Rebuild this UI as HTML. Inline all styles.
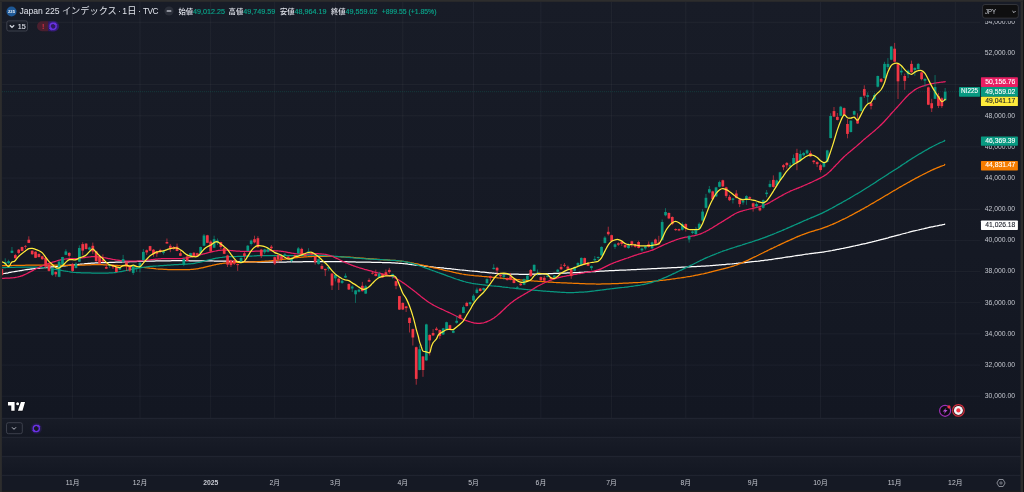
<!DOCTYPE html>
<html lang="ja"><head><meta charset="utf-8"><title>Japan 225</title>
<style>
html,body{margin:0;padding:0;background:#151924;}
body{width:1024px;height:492px;overflow:hidden;position:relative;font-family:"Liberation Sans","Noto Sans CJK JP",sans-serif;color:#d1d4dc;}
#chart{position:absolute;left:0;top:0;width:1024px;height:492px;}
.t{position:absolute;white-space:nowrap;line-height:1;}
#ov{position:absolute;left:0;top:0;width:1024px;height:492px;will-change:transform;}
.ax{position:absolute;right:9px;font-size:6.8px;color:#c4c7cf;line-height:1;white-space:nowrap;}
.tm{position:absolute;top:480.2px;font-size:6.8px;color:#c4c7cf;line-height:1;transform:translateX(-50%);white-space:nowrap;}
.lb{-webkit-text-stroke:0.1px currentColor;position:absolute;left:980px;width:35.3px;height:9.6px;font-size:6.75px;line-height:9.6px;text-align:right;color:#fff;white-space:nowrap;}
</style></head><body>
<svg id="chart" width="1024" height="492" viewBox="0 0 1024 492">
<defs><linearGradient id="bgg" x1="0" y1="0" x2="0" y2="1"><stop offset="0" stop-color="#181c27"/><stop offset="1" stop-color="#131722"/></linearGradient></defs>
<rect x="0" y="0" width="1024" height="492" fill="#151924"/>
<rect x="0" y="0" width="1024" height="418.3" fill="url(#bgg)"/>
<rect x="0" y="418.3" width="1024" height="19" fill="url(#bgg)"/>
<rect x="0" y="437.3" width="1024" height="19" fill="url(#bgg)"/>
<rect x="0" y="456.3" width="1024" height="19" fill="url(#bgg)"/>
<g stroke="#f0f3fa" stroke-opacity="0.055" stroke-width="0.8" fill="none">
<path d="M2 22.3H980M2 53.5H980M2 84.6H980M2 115.8H980M2 146.9H980M2 178.1H980M2 209.3H980M2 240.4H980M2 271.6H980M2 302.7H980M2 333.9H980M2 365.1H980M2 396.2H980"/>
<path d="M72.6 2V418M140.0 2V418M210.7 2V418M274.7 2V418M335.4 2V418M402.8 2V418M473.5 2V418M540.9 2V418M611.6 2V418M685.8 2V418M753.1 2V418M820.5 2V418M894.6 2V418M955.3 2V418"/>
</g>
<g stroke="#272b37" stroke-width="0.8">
<path d="M2 418.3H1021M2 437.3H1021M2 456.3H1021M2 475.3H1021"/>
</g>
<path d="M2.1 273.9C2.5 273.8 3.5 273.6 4.1 273.5C4.8 273.4 5.5 273.3 6.1 273.1C6.8 273.0 7.5 272.9 8.1 272.8C8.8 272.6 9.5 272.5 10.1 272.4C10.8 272.3 11.5 272.1 12.1 272.0C12.8 271.9 13.5 271.8 14.1 271.7C14.8 271.5 15.5 271.4 16.1 271.3C16.8 271.2 17.5 271.1 18.1 271.0C18.8 270.9 19.5 270.8 20.1 270.6C20.8 270.5 21.5 270.4 22.1 270.3C22.8 270.2 23.5 270.1 24.1 270.0C24.8 269.9 25.5 269.8 26.1 269.7C26.8 269.6 27.5 269.5 28.1 269.4C28.8 269.3 29.5 269.3 30.1 269.2C30.8 269.1 31.5 269.0 32.1 268.9C32.8 268.8 33.5 268.7 34.1 268.6C34.8 268.6 35.5 268.5 36.1 268.4C36.8 268.3 37.5 268.3 38.1 268.2C38.8 268.1 39.5 268.0 40.1 268.0C40.8 267.9 41.5 267.8 42.1 267.8C42.8 267.7 43.5 267.6 44.1 267.6C44.8 267.5 45.5 267.4 46.1 267.4C46.8 267.3 47.5 267.3 48.1 267.2C48.8 267.1 49.5 267.1 50.1 267.0C50.8 267.0 51.5 266.9 52.1 266.9C52.8 266.8 53.5 266.8 54.1 266.7C54.8 266.7 55.5 266.6 56.1 266.5C56.8 266.5 57.5 266.4 58.1 266.4C58.8 266.3 59.5 266.3 60.1 266.2C60.8 266.1 61.5 266.1 62.1 266.0C62.8 265.9 63.5 265.9 64.1 265.8C64.8 265.8 65.5 265.7 66.1 265.6C66.8 265.6 67.5 265.5 68.1 265.4C68.8 265.4 69.5 265.3 70.1 265.2C70.8 265.1 71.5 265.1 72.1 265.0C72.8 264.9 73.5 264.9 74.1 264.8C74.8 264.7 75.5 264.7 76.1 264.6C76.8 264.5 77.5 264.4 78.1 264.4C78.8 264.3 79.5 264.2 80.1 264.2C80.8 264.1 81.5 264.0 82.1 264.0C82.8 263.9 83.5 263.8 84.1 263.8C84.8 263.7 85.5 263.7 86.1 263.6C86.8 263.5 87.5 263.5 88.1 263.4C88.8 263.4 89.5 263.3 90.1 263.3C90.8 263.2 91.5 263.2 92.1 263.1C92.8 263.1 93.5 263.1 94.1 263.0C94.8 263.0 95.5 262.9 96.1 262.9C96.8 262.9 97.5 262.9 98.1 262.8C98.8 262.8 99.5 262.8 100.1 262.7C100.8 262.7 101.5 262.7 102.1 262.7C102.8 262.6 103.5 262.6 104.1 262.6C104.8 262.6 105.5 262.6 106.1 262.5C106.8 262.5 107.5 262.5 108.1 262.5C108.8 262.4 109.5 262.4 110.1 262.4C110.8 262.4 111.5 262.3 112.1 262.3C112.8 262.3 113.5 262.3 114.1 262.3C114.8 262.2 115.5 262.2 116.1 262.2C116.8 262.2 117.5 262.1 118.1 262.1C118.8 262.1 119.5 262.1 120.1 262.0C120.8 262.0 121.5 262.0 122.1 262.0C122.8 261.9 123.5 261.9 124.1 261.9C124.8 261.9 125.5 261.8 126.1 261.8C126.8 261.8 127.5 261.8 128.1 261.8C128.8 261.7 129.5 261.7 130.1 261.7C130.8 261.7 131.5 261.6 132.1 261.6C132.8 261.6 133.5 261.6 134.1 261.5C134.8 261.5 135.5 261.5 136.1 261.5C136.8 261.5 137.5 261.4 138.1 261.4C138.8 261.4 139.5 261.4 140.1 261.3C140.8 261.3 141.5 261.3 142.1 261.3C142.8 261.3 143.5 261.2 144.1 261.2C144.8 261.2 145.5 261.2 146.1 261.2C146.8 261.2 147.5 261.1 148.1 261.1C148.8 261.1 149.5 261.1 150.1 261.1C150.8 261.1 151.5 261.0 152.1 261.0C152.8 261.0 153.5 261.0 154.1 261.0C154.8 261.0 155.5 261.0 156.1 260.9C156.8 260.9 157.5 260.9 158.1 260.9C158.8 260.9 159.5 260.9 160.1 260.9C160.8 260.9 161.5 260.9 162.1 260.9C162.8 260.8 163.5 260.8 164.1 260.8C164.8 260.8 165.5 260.8 166.1 260.8C166.8 260.8 167.5 260.8 168.1 260.8C168.8 260.8 169.5 260.8 170.1 260.8C170.8 260.8 171.5 260.8 172.1 260.7C172.8 260.7 173.5 260.7 174.1 260.7C174.8 260.7 175.5 260.7 176.1 260.7C176.8 260.7 177.5 260.7 178.1 260.7C178.8 260.7 179.5 260.7 180.1 260.7C180.8 260.7 181.5 260.7 182.1 260.7C182.8 260.7 183.5 260.7 184.1 260.7C184.8 260.7 185.5 260.7 186.1 260.7C186.8 260.7 187.5 260.7 188.1 260.7C188.8 260.8 189.5 260.8 190.1 260.8C190.8 260.8 191.5 260.8 192.1 260.8C192.8 260.8 193.5 260.8 194.1 260.8C194.8 260.8 195.5 260.8 196.1 260.8C196.8 260.8 197.5 260.8 198.1 260.8C198.8 260.9 199.5 260.9 200.1 260.9C200.8 260.9 201.5 260.9 202.1 260.9C202.8 260.9 203.5 260.9 204.1 260.9C204.8 260.9 205.5 260.9 206.1 260.9C206.8 260.9 207.5 260.9 208.1 260.9C208.8 260.9 209.5 260.9 210.1 260.9C210.8 260.9 211.5 260.9 212.1 260.9C212.8 260.9 213.5 260.9 214.1 261.0C214.8 261.0 215.5 261.0 216.1 261.0C216.8 261.0 217.5 261.0 218.1 261.0C218.8 261.0 219.5 261.0 220.1 261.0C220.8 261.0 221.5 261.0 222.1 261.0C222.8 261.1 223.5 261.1 224.1 261.1C224.8 261.1 225.5 261.1 226.1 261.1C226.8 261.2 227.5 261.2 228.1 261.2C228.8 261.2 229.5 261.2 230.1 261.3C230.8 261.3 231.5 261.3 232.1 261.3C232.8 261.4 233.5 261.4 234.1 261.4C234.8 261.4 235.5 261.5 236.1 261.5C236.8 261.5 237.5 261.5 238.1 261.5C238.8 261.6 239.5 261.6 240.1 261.6C240.8 261.6 241.5 261.7 242.1 261.7C242.8 261.7 243.5 261.7 244.1 261.7C244.8 261.7 245.5 261.8 246.1 261.8C246.8 261.8 247.5 261.8 248.1 261.8C248.8 261.8 249.5 261.8 250.1 261.9C250.8 261.9 251.5 261.9 252.1 261.9C252.8 261.9 253.5 261.9 254.1 261.9C254.8 261.9 255.5 261.9 256.1 261.9C256.8 262.0 257.5 262.0 258.1 262.0C258.8 262.0 259.5 262.0 260.1 262.0C260.8 262.0 261.5 262.0 262.1 262.0C262.8 262.0 263.5 262.0 264.1 262.0C264.8 262.0 265.5 262.0 266.1 262.0C266.8 262.0 267.5 262.0 268.1 262.0C268.8 262.0 269.5 262.0 270.1 262.0C270.8 262.0 271.5 262.0 272.1 262.0C272.8 262.0 273.5 262.0 274.1 262.0C274.8 262.0 275.5 262.0 276.1 262.0C276.8 262.0 277.5 262.0 278.1 262.0C278.8 262.0 279.5 262.0 280.1 262.0C280.8 262.0 281.5 262.0 282.1 262.0C282.8 262.0 283.5 262.0 284.1 262.0C284.8 262.0 285.5 262.0 286.1 262.0C286.8 262.0 287.5 261.9 288.1 261.9C288.8 261.9 289.5 261.9 290.1 261.9C290.8 261.9 291.5 261.9 292.1 261.9C292.8 261.9 293.5 261.9 294.1 261.9C294.8 261.9 295.5 261.9 296.1 261.8C296.8 261.8 297.5 261.8 298.1 261.8C298.8 261.8 299.5 261.8 300.1 261.8C300.8 261.8 301.5 261.8 302.1 261.8C302.8 261.8 303.5 261.7 304.1 261.7C304.8 261.7 305.5 261.7 306.1 261.7C306.8 261.7 307.5 261.7 308.1 261.7C308.8 261.7 309.5 261.7 310.1 261.7C310.8 261.7 311.5 261.7 312.1 261.7C312.8 261.7 313.5 261.7 314.1 261.7C314.8 261.6 315.5 261.6 316.1 261.6C316.8 261.6 317.5 261.6 318.1 261.6C318.8 261.6 319.5 261.6 320.1 261.6C320.8 261.6 321.5 261.6 322.1 261.6C322.8 261.6 323.5 261.6 324.1 261.6C324.8 261.6 325.5 261.6 326.1 261.6C326.8 261.6 327.5 261.6 328.1 261.6C328.8 261.6 329.5 261.6 330.1 261.6C330.8 261.6 331.5 261.6 332.1 261.6C332.8 261.6 333.5 261.6 334.1 261.6C334.8 261.6 335.5 261.6 336.1 261.6C336.8 261.6 337.5 261.6 338.1 261.6C338.8 261.6 339.5 261.6 340.1 261.6C340.8 261.6 341.5 261.7 342.1 261.7C342.8 261.7 343.5 261.7 344.1 261.7C344.8 261.7 345.5 261.7 346.1 261.7C346.8 261.8 347.5 261.8 348.1 261.8C348.8 261.8 349.5 261.8 350.1 261.8C350.8 261.9 351.5 261.9 352.1 261.9C352.8 261.9 353.5 261.9 354.1 261.9C354.8 261.9 355.5 262.0 356.1 262.0C356.8 262.0 357.5 262.0 358.1 262.0C358.8 262.0 359.5 262.0 360.1 262.1C360.8 262.1 361.5 262.1 362.1 262.1C362.8 262.1 363.5 262.1 364.1 262.1C364.8 262.1 365.5 262.1 366.1 262.2C366.8 262.2 367.5 262.2 368.1 262.2C368.8 262.2 369.5 262.2 370.1 262.2C370.8 262.2 371.5 262.2 372.1 262.3C372.8 262.3 373.5 262.3 374.1 262.3C374.8 262.3 375.5 262.3 376.1 262.3C376.8 262.3 377.5 262.3 378.1 262.4C378.8 262.4 379.5 262.4 380.1 262.4C380.8 262.4 381.5 262.4 382.1 262.5C382.8 262.5 383.5 262.5 384.1 262.5C384.8 262.5 385.5 262.6 386.1 262.6C386.8 262.6 387.5 262.6 388.1 262.7C388.8 262.7 389.5 262.7 390.1 262.7C390.8 262.8 391.5 262.8 392.1 262.8C392.8 262.9 393.5 262.9 394.1 262.9C394.8 263.0 395.5 263.0 396.1 263.0C396.8 263.1 397.5 263.1 398.1 263.2C398.8 263.2 399.5 263.3 400.1 263.3C400.8 263.4 401.5 263.4 402.1 263.5C402.8 263.6 403.5 263.6 404.1 263.7C404.8 263.7 405.5 263.8 406.1 263.9C406.8 264.0 407.5 264.0 408.1 264.1C408.8 264.2 409.5 264.3 410.1 264.3C410.8 264.4 411.5 264.5 412.1 264.6C412.8 264.6 413.5 264.7 414.1 264.8C414.8 264.9 415.5 265.0 416.1 265.0C416.8 265.1 417.5 265.2 418.1 265.3C418.8 265.4 419.5 265.4 420.1 265.5C420.8 265.6 421.5 265.7 422.1 265.7C422.8 265.8 423.5 265.9 424.1 266.0C424.8 266.0 425.5 266.1 426.1 266.2C426.8 266.3 427.5 266.3 428.1 266.4C428.8 266.5 429.5 266.6 430.1 266.6C430.8 266.7 431.5 266.8 432.1 266.8C432.8 266.9 433.5 267.0 434.1 267.1C434.8 267.1 435.5 267.2 436.1 267.3C436.8 267.3 437.5 267.4 438.1 267.5C438.8 267.5 439.5 267.6 440.1 267.7C440.8 267.8 441.5 267.8 442.1 267.9C442.8 268.0 443.5 268.0 444.1 268.1C444.8 268.2 445.5 268.3 446.1 268.3C446.8 268.4 447.5 268.5 448.1 268.5C448.8 268.6 449.5 268.7 450.1 268.7C450.8 268.8 451.5 268.9 452.1 269.0C452.8 269.0 453.5 269.1 454.1 269.2C454.8 269.2 455.5 269.3 456.1 269.4C456.8 269.4 457.5 269.5 458.1 269.6C458.8 269.6 459.5 269.7 460.1 269.8C460.8 269.8 461.5 269.9 462.1 270.0C462.8 270.0 463.5 270.1 464.1 270.2C464.8 270.2 465.5 270.3 466.1 270.4C466.8 270.4 467.5 270.5 468.1 270.6C468.8 270.6 469.5 270.7 470.1 270.8C470.8 270.8 471.5 270.9 472.1 271.0C472.8 271.0 473.5 271.1 474.1 271.2C474.8 271.2 475.5 271.3 476.1 271.4C476.8 271.5 477.5 271.5 478.1 271.6C478.8 271.7 479.5 271.7 480.1 271.8C480.8 271.9 481.5 272.0 482.1 272.0C482.8 272.1 483.5 272.2 484.1 272.2C484.8 272.3 485.5 272.4 486.1 272.4C486.8 272.5 487.5 272.6 488.1 272.6C488.8 272.7 489.5 272.8 490.1 272.8C490.8 272.9 491.5 272.9 492.1 273.0C492.8 273.0 493.5 273.1 494.1 273.2C494.8 273.2 495.5 273.3 496.1 273.3C496.8 273.4 497.5 273.4 498.1 273.5C498.8 273.5 499.5 273.5 500.1 273.6C500.8 273.6 501.5 273.7 502.1 273.7C502.8 273.7 503.5 273.8 504.1 273.8C504.8 273.8 505.5 273.9 506.1 273.9C506.8 273.9 507.5 274.0 508.1 274.0C508.8 274.0 509.5 274.0 510.1 274.0C510.8 274.1 511.5 274.1 512.1 274.1C512.8 274.1 513.5 274.1 514.1 274.2C514.8 274.2 515.5 274.2 516.1 274.2C516.8 274.2 517.5 274.2 518.1 274.2C518.8 274.2 519.5 274.3 520.1 274.3C520.8 274.3 521.5 274.3 522.1 274.3C522.8 274.3 523.5 274.3 524.1 274.3C524.8 274.3 525.5 274.3 526.1 274.3C526.8 274.3 527.5 274.3 528.1 274.3C528.8 274.3 529.5 274.2 530.1 274.2C530.8 274.2 531.5 274.2 532.1 274.2C532.8 274.2 533.5 274.2 534.1 274.2C534.8 274.2 535.5 274.1 536.1 274.1C536.8 274.1 537.5 274.1 538.1 274.1C538.8 274.0 539.5 274.0 540.1 274.0C540.8 274.0 541.5 274.0 542.1 273.9C542.8 273.9 543.5 273.9 544.1 273.9C544.8 273.8 545.5 273.8 546.1 273.8C546.8 273.8 547.5 273.7 548.1 273.7C548.8 273.7 549.5 273.6 550.1 273.6C550.8 273.6 551.5 273.5 552.1 273.5C552.8 273.5 553.5 273.5 554.1 273.4C554.8 273.4 555.5 273.4 556.1 273.3C556.8 273.3 557.5 273.3 558.1 273.3C558.8 273.2 559.5 273.2 560.1 273.2C560.8 273.2 561.5 273.1 562.1 273.1C562.8 273.1 563.5 273.1 564.1 273.0C564.8 273.0 565.5 273.0 566.1 273.0C566.8 273.0 567.5 272.9 568.1 272.9C568.8 272.9 569.5 272.9 570.1 272.8C570.8 272.8 571.5 272.8 572.1 272.8C572.8 272.7 573.5 272.7 574.1 272.7C574.8 272.7 575.5 272.6 576.1 272.6C576.8 272.6 577.5 272.5 578.1 272.5C578.8 272.5 579.5 272.4 580.1 272.4C580.8 272.4 581.5 272.3 582.1 272.3C582.8 272.2 583.5 272.2 584.1 272.2C584.8 272.1 585.5 272.1 586.1 272.0C586.8 272.0 587.5 272.0 588.1 271.9C588.8 271.9 589.5 271.8 590.1 271.8C590.8 271.8 591.5 271.7 592.1 271.7C592.8 271.7 593.5 271.6 594.1 271.6C594.8 271.5 595.5 271.5 596.1 271.5C596.8 271.4 597.5 271.4 598.1 271.3C598.8 271.3 599.5 271.3 600.1 271.2C600.8 271.2 601.5 271.1 602.1 271.1C602.8 271.1 603.5 271.0 604.1 271.0C604.8 271.0 605.5 270.9 606.1 270.9C606.8 270.9 607.5 270.8 608.1 270.8C608.8 270.8 609.5 270.7 610.1 270.7C610.8 270.7 611.5 270.6 612.1 270.6C612.8 270.6 613.5 270.5 614.1 270.5C614.8 270.5 615.5 270.4 616.1 270.4C616.8 270.4 617.5 270.4 618.1 270.3C618.8 270.3 619.5 270.3 620.1 270.2C620.8 270.2 621.5 270.2 622.1 270.2C622.8 270.1 623.5 270.1 624.1 270.1C624.8 270.0 625.5 270.0 626.1 270.0C626.8 269.9 627.5 269.9 628.1 269.9C628.8 269.9 629.5 269.8 630.1 269.8C630.8 269.8 631.5 269.7 632.1 269.7C632.8 269.7 633.5 269.6 634.1 269.6C634.8 269.6 635.5 269.5 636.1 269.5C636.8 269.5 637.5 269.4 638.1 269.4C638.8 269.4 639.5 269.4 640.1 269.3C640.8 269.3 641.5 269.3 642.1 269.2C642.8 269.2 643.5 269.2 644.1 269.1C644.8 269.1 645.5 269.1 646.1 269.0C646.8 269.0 647.5 269.0 648.1 268.9C648.8 268.9 649.5 268.9 650.1 268.8C650.8 268.8 651.5 268.8 652.1 268.7C652.8 268.7 653.5 268.7 654.1 268.6C654.8 268.6 655.5 268.6 656.1 268.5C656.8 268.5 657.5 268.5 658.1 268.4C658.8 268.4 659.5 268.4 660.1 268.3C660.8 268.3 661.5 268.3 662.1 268.2C662.8 268.2 663.5 268.2 664.1 268.1C664.8 268.1 665.5 268.1 666.1 268.0C666.8 268.0 667.5 268.0 668.1 267.9C668.8 267.9 669.5 267.9 670.1 267.8C670.8 267.8 671.5 267.8 672.1 267.7C672.8 267.7 673.5 267.7 674.1 267.6C674.8 267.6 675.5 267.6 676.1 267.5C676.8 267.5 677.5 267.5 678.1 267.4C678.8 267.4 679.5 267.4 680.1 267.3C680.8 267.3 681.5 267.3 682.1 267.2C682.8 267.2 683.5 267.2 684.1 267.1C684.8 267.1 685.5 267.1 686.1 267.0C686.8 267.0 687.5 267.0 688.1 266.9C688.8 266.9 689.5 266.9 690.1 266.8C690.8 266.8 691.5 266.8 692.1 266.7C692.8 266.7 693.5 266.6 694.1 266.6C694.8 266.6 695.5 266.5 696.1 266.5C696.8 266.5 697.5 266.4 698.1 266.4C698.8 266.4 699.5 266.3 700.1 266.3C700.8 266.3 701.5 266.2 702.1 266.2C702.8 266.1 703.5 266.1 704.1 266.1C704.8 266.0 705.5 266.0 706.1 265.9C706.8 265.9 707.5 265.8 708.1 265.8C708.8 265.7 709.5 265.7 710.1 265.7C710.8 265.6 711.5 265.6 712.1 265.5C712.8 265.5 713.5 265.4 714.1 265.4C714.8 265.3 715.5 265.3 716.1 265.2C716.8 265.1 717.5 265.1 718.1 265.0C718.8 265.0 719.5 264.9 720.1 264.9C720.8 264.8 721.5 264.8 722.1 264.7C722.8 264.6 723.5 264.6 724.1 264.5C724.8 264.5 725.5 264.4 726.1 264.3C726.8 264.3 727.5 264.2 728.1 264.2C728.8 264.1 729.5 264.0 730.1 264.0C730.8 263.9 731.5 263.8 732.1 263.8C732.8 263.7 733.5 263.6 734.1 263.6C734.8 263.5 735.5 263.4 736.1 263.4C736.8 263.3 737.5 263.2 738.1 263.2C738.8 263.1 739.5 263.0 740.1 263.0C740.8 262.9 741.5 262.8 742.1 262.8C742.8 262.7 743.5 262.6 744.1 262.6C744.8 262.5 745.5 262.4 746.1 262.3C746.8 262.3 747.5 262.2 748.1 262.1C748.8 262.1 749.5 262.0 750.1 261.9C750.8 261.9 751.5 261.8 752.1 261.7C752.8 261.6 753.5 261.6 754.1 261.5C754.8 261.4 755.5 261.4 756.1 261.3C756.8 261.2 757.5 261.1 758.1 261.1C758.8 261.0 759.5 260.9 760.1 260.8C760.8 260.7 761.5 260.7 762.1 260.6C762.8 260.5 763.5 260.4 764.1 260.3C764.8 260.2 765.5 260.2 766.1 260.1C766.8 260.0 767.5 259.9 768.1 259.8C768.8 259.7 769.5 259.6 770.1 259.5C770.8 259.5 771.5 259.4 772.1 259.3C772.8 259.2 773.5 259.1 774.1 259.0C774.8 258.9 775.5 258.8 776.1 258.7C776.8 258.6 777.5 258.5 778.1 258.4C778.8 258.3 779.5 258.2 780.1 258.1C780.8 258.0 781.5 257.9 782.1 257.8C782.8 257.7 783.5 257.6 784.1 257.5C784.8 257.4 785.5 257.3 786.1 257.2C786.8 257.1 787.5 257.0 788.1 256.9C788.8 256.8 789.5 256.7 790.1 256.6C790.8 256.5 791.5 256.4 792.1 256.3C792.8 256.2 793.5 256.1 794.1 256.0C794.8 255.9 795.5 255.8 796.1 255.7C796.8 255.6 797.5 255.5 798.1 255.4C798.8 255.3 799.5 255.2 800.1 255.1C800.8 255.0 801.5 254.9 802.1 254.8C802.8 254.7 803.5 254.6 804.1 254.5C804.8 254.4 805.5 254.3 806.1 254.2C806.8 254.1 807.5 254.0 808.1 254.0C808.8 253.9 809.5 253.8 810.1 253.7C810.8 253.6 811.5 253.5 812.1 253.4C812.8 253.3 813.5 253.3 814.1 253.2C814.8 253.1 815.5 253.0 816.1 252.9C816.8 252.8 817.5 252.7 818.1 252.6C818.8 252.6 819.5 252.5 820.1 252.4C820.8 252.3 821.5 252.2 822.1 252.1C822.8 252.0 823.5 251.9 824.1 251.8C824.8 251.7 825.5 251.6 826.1 251.5C826.8 251.4 827.5 251.3 828.1 251.2C828.8 251.0 829.5 250.9 830.1 250.8C830.8 250.7 831.5 250.6 832.1 250.5C832.8 250.3 833.5 250.2 834.1 250.1C834.8 250.0 835.5 249.8 836.1 249.7C836.8 249.6 837.5 249.4 838.1 249.3C838.8 249.2 839.5 249.0 840.1 248.9C840.8 248.8 841.5 248.6 842.1 248.5C842.8 248.4 843.5 248.2 844.1 248.1C844.8 248.0 845.5 247.8 846.1 247.7C846.8 247.5 847.5 247.4 848.1 247.3C848.8 247.1 849.5 247.0 850.1 246.8C850.8 246.7 851.5 246.6 852.1 246.4C852.8 246.3 853.5 246.1 854.1 246.0C854.8 245.8 855.5 245.7 856.1 245.5C856.8 245.4 857.5 245.3 858.1 245.1C858.8 245.0 859.5 244.8 860.1 244.7C860.8 244.5 861.5 244.4 862.1 244.2C862.8 244.1 863.5 243.9 864.1 243.8C864.8 243.6 865.5 243.4 866.1 243.3C866.8 243.1 867.5 243.0 868.1 242.8C868.8 242.7 869.5 242.5 870.1 242.3C870.8 242.2 871.5 242.0 872.1 241.9C872.8 241.7 873.5 241.5 874.1 241.4C874.8 241.2 875.5 241.0 876.1 240.9C876.8 240.7 877.5 240.5 878.1 240.4C878.8 240.2 879.5 240.0 880.1 239.8C880.8 239.7 881.5 239.5 882.1 239.3C882.8 239.1 883.5 239.0 884.1 238.8C884.8 238.6 885.5 238.5 886.1 238.3C886.8 238.1 887.5 237.9 888.1 237.8C888.8 237.6 889.5 237.4 890.1 237.2C890.8 237.0 891.5 236.9 892.1 236.7C892.8 236.5 893.5 236.3 894.1 236.2C894.8 236.0 895.5 235.8 896.1 235.6C896.8 235.5 897.5 235.3 898.1 235.1C898.8 234.9 899.5 234.7 900.1 234.6C900.8 234.4 901.5 234.2 902.1 234.0C902.8 233.9 903.5 233.7 904.1 233.5C904.8 233.3 905.5 233.2 906.1 233.0C906.8 232.8 907.5 232.6 908.1 232.5C908.8 232.3 909.5 232.1 910.1 231.9C910.8 231.8 911.5 231.6 912.1 231.4C912.8 231.3 913.5 231.1 914.1 230.9C914.8 230.8 915.5 230.6 916.1 230.5C916.8 230.3 917.5 230.1 918.1 230.0C918.8 229.8 919.5 229.7 920.1 229.5C920.8 229.3 921.5 229.2 922.1 229.0C922.8 228.9 923.5 228.7 924.1 228.6C924.8 228.4 925.5 228.3 926.1 228.1C926.8 228.0 927.5 227.8 928.1 227.7C928.8 227.5 929.5 227.4 930.1 227.2C930.8 227.1 931.5 226.9 932.1 226.8C932.8 226.7 933.5 226.5 934.1 226.4C934.8 226.3 935.5 226.1 936.1 226.0C936.8 225.9 937.5 225.7 938.1 225.6C938.8 225.5 939.5 225.3 940.1 225.2C940.8 225.1 941.5 225.0 942.1 224.8C942.8 224.7 943.7 224.6 944.1 224.5C944.6 224.4 944.6 224.2 944.7 224.1" fill="none" stroke="#ffffff" stroke-width="1.25" stroke-linejoin="round" stroke-linecap="round"/>
<path d="M2.1 265.6C2.5 265.6 3.5 265.6 4.1 265.6C4.8 265.6 5.5 265.5 6.1 265.5C6.8 265.5 7.5 265.5 8.1 265.5C8.8 265.5 9.5 265.5 10.1 265.5C10.8 265.5 11.5 265.5 12.1 265.5C12.8 265.4 13.5 265.4 14.1 265.4C14.8 265.4 15.5 265.4 16.1 265.4C16.8 265.4 17.5 265.4 18.1 265.4C18.8 265.3 19.5 265.3 20.1 265.3C20.8 265.3 21.5 265.3 22.1 265.3C22.8 265.3 23.5 265.3 24.1 265.3C24.8 265.2 25.5 265.2 26.1 265.2C26.8 265.2 27.5 265.2 28.1 265.2C28.8 265.2 29.5 265.2 30.1 265.2C30.8 265.1 31.5 265.1 32.1 265.1C32.8 265.1 33.5 265.1 34.1 265.1C34.8 265.1 35.5 265.1 36.1 265.1C36.8 265.1 37.5 265.0 38.1 265.0C38.8 265.0 39.5 265.0 40.1 265.0C40.8 265.0 41.5 265.0 42.1 265.0C42.8 265.0 43.5 265.0 44.1 265.0C44.8 265.0 45.5 265.0 46.1 265.0C46.8 265.0 47.5 265.0 48.1 265.1C48.8 265.1 49.5 265.1 50.1 265.1C50.8 265.1 51.5 265.1 52.1 265.1C52.8 265.1 53.5 265.1 54.1 265.1C54.8 265.2 55.5 265.2 56.1 265.2C56.8 265.2 57.5 265.2 58.1 265.2C58.8 265.2 59.5 265.3 60.1 265.3C60.8 265.3 61.5 265.3 62.1 265.3C62.8 265.3 63.5 265.3 64.1 265.3C64.8 265.4 65.5 265.4 66.1 265.4C66.8 265.4 67.5 265.4 68.1 265.4C68.8 265.4 69.5 265.4 70.1 265.4C70.8 265.4 71.5 265.4 72.1 265.4C72.8 265.4 73.5 265.4 74.1 265.4C74.8 265.3 75.5 265.3 76.1 265.3C76.8 265.3 77.5 265.3 78.1 265.3C78.8 265.2 79.5 265.2 80.1 265.2C80.8 265.2 81.5 265.1 82.1 265.1C82.8 265.1 83.5 265.0 84.1 265.0C84.8 265.0 85.5 265.0 86.1 264.9C86.8 264.9 87.5 264.9 88.1 264.9C88.8 264.8 89.5 264.8 90.1 264.8C90.8 264.8 91.5 264.8 92.1 264.7C92.8 264.7 93.5 264.7 94.1 264.7C94.8 264.7 95.5 264.7 96.1 264.7C96.8 264.7 97.5 264.7 98.1 264.7C98.8 264.7 99.5 264.7 100.1 264.7C100.8 264.7 101.5 264.7 102.1 264.7C102.8 264.8 103.5 264.8 104.1 264.8C104.8 264.8 105.5 264.8 106.1 264.9C106.8 264.9 107.5 264.9 108.1 265.0C108.8 265.0 109.5 265.0 110.1 265.0C110.8 265.1 111.5 265.1 112.1 265.2C112.8 265.2 113.5 265.2 114.1 265.3C114.8 265.3 115.5 265.4 116.1 265.4C116.8 265.4 117.5 265.5 118.1 265.5C118.8 265.6 119.5 265.6 120.1 265.7C120.8 265.7 121.5 265.7 122.1 265.8C122.8 265.8 123.5 265.9 124.1 265.9C124.8 265.9 125.5 266.0 126.1 266.0C126.8 266.1 127.5 266.1 128.1 266.1C128.8 266.2 129.5 266.2 130.1 266.3C130.8 266.3 131.5 266.4 132.1 266.4C132.8 266.5 133.5 266.5 134.1 266.5C134.8 266.6 135.5 266.6 136.1 266.7C136.8 266.8 137.5 266.8 138.1 266.9C138.8 266.9 139.5 267.0 140.1 267.1C140.8 267.1 141.5 267.2 142.1 267.3C142.8 267.3 143.5 267.4 144.1 267.5C144.8 267.6 145.5 267.6 146.1 267.7C146.8 267.8 147.5 267.9 148.1 267.9C148.8 268.0 149.5 268.1 150.1 268.2C150.8 268.2 151.5 268.3 152.1 268.4C152.8 268.5 153.5 268.5 154.1 268.6C154.8 268.7 155.5 268.7 156.1 268.8C156.8 268.8 157.5 268.9 158.1 269.0C158.8 269.0 159.5 269.1 160.1 269.1C160.8 269.2 161.5 269.2 162.1 269.2C162.8 269.3 163.5 269.3 164.1 269.3C164.8 269.4 165.5 269.4 166.1 269.4C166.8 269.5 167.5 269.5 168.1 269.5C168.8 269.5 169.5 269.5 170.1 269.6C170.8 269.6 171.5 269.6 172.1 269.6C172.8 269.6 173.5 269.6 174.1 269.6C174.8 269.7 175.5 269.7 176.1 269.7C176.8 269.7 177.5 269.7 178.1 269.7C178.8 269.7 179.5 269.7 180.1 269.7C180.8 269.7 181.5 269.7 182.1 269.7C182.8 269.7 183.5 269.7 184.1 269.7C184.8 269.7 185.5 269.7 186.1 269.7C186.8 269.6 187.5 269.6 188.1 269.6C188.8 269.6 189.5 269.5 190.1 269.5C190.8 269.4 191.5 269.4 192.1 269.3C192.8 269.3 193.5 269.2 194.1 269.1C194.8 269.0 195.5 269.0 196.1 268.9C196.8 268.8 197.5 268.7 198.1 268.6C198.8 268.5 199.5 268.3 200.1 268.2C200.8 268.1 201.5 267.9 202.1 267.8C202.8 267.6 203.5 267.5 204.1 267.3C204.8 267.2 205.5 267.0 206.1 266.8C206.8 266.7 207.5 266.5 208.1 266.3C208.8 266.2 209.5 266.0 210.1 265.8C210.8 265.7 211.5 265.5 212.1 265.4C212.8 265.2 213.5 265.0 214.1 264.9C214.8 264.7 215.5 264.6 216.1 264.5C216.8 264.3 217.5 264.2 218.1 264.1C218.8 264.0 219.5 263.8 220.1 263.7C220.8 263.6 221.5 263.5 222.1 263.5C222.8 263.4 223.5 263.3 224.1 263.2C224.8 263.1 225.5 263.1 226.1 263.0C226.8 262.9 227.5 262.9 228.1 262.8C228.8 262.8 229.5 262.7 230.1 262.7C230.8 262.7 231.5 262.6 232.1 262.6C232.8 262.6 233.5 262.5 234.1 262.5C234.8 262.5 235.5 262.5 236.1 262.4C236.8 262.4 237.5 262.4 238.1 262.4C238.8 262.3 239.5 262.3 240.1 262.3C240.8 262.3 241.5 262.2 242.1 262.2C242.8 262.2 243.5 262.2 244.1 262.2C244.8 262.1 245.5 262.1 246.1 262.1C246.8 262.1 247.5 262.0 248.1 262.0C248.8 262.0 249.5 262.0 250.1 261.9C250.8 261.9 251.5 261.9 252.1 261.9C252.8 261.8 253.5 261.8 254.1 261.8C254.8 261.7 255.5 261.7 256.1 261.7C256.8 261.7 257.5 261.6 258.1 261.6C258.8 261.6 259.5 261.5 260.1 261.5C260.8 261.5 261.5 261.5 262.1 261.4C262.8 261.4 263.5 261.3 264.1 261.3C264.8 261.3 265.5 261.2 266.1 261.2C266.8 261.1 267.5 261.1 268.1 261.0C268.8 261.0 269.5 260.9 270.1 260.9C270.8 260.8 271.5 260.8 272.1 260.7C272.8 260.6 273.5 260.6 274.1 260.5C274.8 260.4 275.5 260.3 276.1 260.3C276.8 260.2 277.5 260.1 278.1 260.0C278.8 259.9 279.5 259.8 280.1 259.8C280.8 259.7 281.5 259.6 282.1 259.5C282.8 259.4 283.5 259.3 284.1 259.2C284.8 259.1 285.5 259.1 286.1 259.0C286.8 258.9 287.5 258.8 288.1 258.7C288.8 258.6 289.5 258.5 290.1 258.5C290.8 258.4 291.5 258.3 292.1 258.2C292.8 258.1 293.5 258.0 294.1 258.0C294.8 257.9 295.5 257.8 296.1 257.7C296.8 257.7 297.5 257.6 298.1 257.5C298.8 257.4 299.5 257.4 300.1 257.3C300.8 257.2 301.5 257.2 302.1 257.1C302.8 257.1 303.5 257.0 304.1 256.9C304.8 256.9 305.5 256.8 306.1 256.8C306.8 256.7 307.5 256.7 308.1 256.7C308.8 256.6 309.5 256.6 310.1 256.5C310.8 256.5 311.5 256.5 312.1 256.5C312.8 256.4 313.5 256.4 314.1 256.4C314.8 256.4 315.5 256.4 316.1 256.3C316.8 256.3 317.5 256.3 318.1 256.3C318.8 256.3 319.5 256.3 320.1 256.3C320.8 256.3 321.5 256.3 322.1 256.3C322.8 256.3 323.5 256.3 324.1 256.3C324.8 256.3 325.5 256.3 326.1 256.3C326.8 256.3 327.5 256.3 328.1 256.4C328.8 256.4 329.5 256.4 330.1 256.4C330.8 256.4 331.5 256.4 332.1 256.4C332.8 256.4 333.5 256.5 334.1 256.5C334.8 256.5 335.5 256.5 336.1 256.5C336.8 256.6 337.5 256.6 338.1 256.6C338.8 256.6 339.5 256.7 340.1 256.7C340.8 256.7 341.5 256.7 342.1 256.8C342.8 256.8 343.5 256.8 344.1 256.9C344.8 256.9 345.5 256.9 346.1 257.0C346.8 257.0 347.5 257.1 348.1 257.1C348.8 257.1 349.5 257.2 350.1 257.2C350.8 257.3 351.5 257.3 352.1 257.4C352.8 257.4 353.5 257.5 354.1 257.5C354.8 257.6 355.5 257.6 356.1 257.7C356.8 257.7 357.5 257.8 358.1 257.8C358.8 257.9 359.5 257.9 360.1 258.0C360.8 258.0 361.5 258.1 362.1 258.1C362.8 258.2 363.5 258.2 364.1 258.3C364.8 258.4 365.5 258.4 366.1 258.5C366.8 258.5 367.5 258.6 368.1 258.6C368.8 258.7 369.5 258.7 370.1 258.8C370.8 258.8 371.5 258.9 372.1 258.9C372.8 259.0 373.5 259.0 374.1 259.1C374.8 259.1 375.5 259.2 376.1 259.2C376.8 259.3 377.5 259.3 378.1 259.4C378.8 259.4 379.5 259.5 380.1 259.5C380.8 259.6 381.5 259.6 382.1 259.7C382.8 259.7 383.5 259.7 384.1 259.8C384.8 259.8 385.5 259.9 386.1 259.9C386.8 259.9 387.5 260.0 388.1 260.0C388.8 260.1 389.5 260.1 390.1 260.2C390.8 260.2 391.5 260.2 392.1 260.3C392.8 260.3 393.5 260.4 394.1 260.4C394.8 260.5 395.5 260.5 396.1 260.6C396.8 260.6 397.5 260.7 398.1 260.8C398.8 260.8 399.5 260.9 400.1 261.0C400.8 261.0 401.5 261.1 402.1 261.2C402.8 261.3 403.5 261.4 404.1 261.5C404.8 261.6 405.5 261.7 406.1 261.8C406.8 261.9 407.5 262.0 408.1 262.1C408.8 262.2 409.5 262.3 410.1 262.5C410.8 262.6 411.5 262.7 412.1 262.9C412.8 263.0 413.5 263.1 414.1 263.3C414.8 263.4 415.5 263.5 416.1 263.7C416.8 263.8 417.5 264.0 418.1 264.1C418.8 264.3 419.5 264.4 420.1 264.6C420.8 264.7 421.5 264.9 422.1 265.0C422.8 265.2 423.5 265.3 424.1 265.5C424.8 265.6 425.5 265.8 426.1 265.9C426.8 266.1 427.5 266.3 428.1 266.4C428.8 266.6 429.5 266.7 430.1 266.9C430.8 267.0 431.5 267.2 432.1 267.3C432.8 267.5 433.5 267.6 434.1 267.8C434.8 267.9 435.5 268.1 436.1 268.2C436.8 268.4 437.5 268.6 438.1 268.7C438.8 268.9 439.5 269.0 440.1 269.2C440.8 269.3 441.5 269.5 442.1 269.6C442.8 269.8 443.5 269.9 444.1 270.1C444.8 270.2 445.5 270.4 446.1 270.6C446.8 270.7 447.5 270.9 448.1 271.0C448.8 271.2 449.5 271.3 450.1 271.5C450.8 271.6 451.5 271.8 452.1 271.9C452.8 272.1 453.5 272.2 454.1 272.4C454.8 272.5 455.5 272.7 456.1 272.8C456.8 273.0 457.5 273.1 458.1 273.2C458.8 273.4 459.5 273.5 460.1 273.6C460.8 273.8 461.5 273.9 462.1 274.0C462.8 274.1 463.5 274.2 464.1 274.3C464.8 274.5 465.5 274.6 466.1 274.7C466.8 274.8 467.5 274.8 468.1 274.9C468.8 275.0 469.5 275.1 470.1 275.2C470.8 275.2 471.5 275.3 472.1 275.4C472.8 275.5 473.5 275.5 474.1 275.6C474.8 275.6 475.5 275.7 476.1 275.8C476.8 275.8 477.5 275.9 478.1 275.9C478.8 276.0 479.5 276.1 480.1 276.1C480.8 276.2 481.5 276.2 482.1 276.3C482.8 276.3 483.5 276.4 484.1 276.5C484.8 276.5 485.5 276.6 486.1 276.6C486.8 276.7 487.5 276.8 488.1 276.8C488.8 276.9 489.5 276.9 490.1 277.0C490.8 277.1 491.5 277.1 492.1 277.2C492.8 277.3 493.5 277.3 494.1 277.4C494.8 277.5 495.5 277.5 496.1 277.6C496.8 277.6 497.5 277.7 498.1 277.8C498.8 277.8 499.5 277.9 500.1 278.0C500.8 278.0 501.5 278.1 502.1 278.2C502.8 278.2 503.5 278.3 504.1 278.3C504.8 278.4 505.5 278.5 506.1 278.5C506.8 278.6 507.5 278.7 508.1 278.7C508.8 278.8 509.5 278.8 510.1 278.9C510.8 279.0 511.5 279.0 512.1 279.1C512.8 279.1 513.5 279.2 514.1 279.3C514.8 279.3 515.5 279.4 516.1 279.4C516.8 279.5 517.5 279.6 518.1 279.6C518.8 279.7 519.5 279.7 520.1 279.8C520.8 279.8 521.5 279.9 522.1 280.0C522.8 280.0 523.5 280.1 524.1 280.1C524.8 280.2 525.5 280.2 526.1 280.3C526.8 280.4 527.5 280.4 528.1 280.5C528.8 280.5 529.5 280.6 530.1 280.6C530.8 280.7 531.5 280.8 532.1 280.8C532.8 280.9 533.5 280.9 534.1 281.0C534.8 281.0 535.5 281.1 536.1 281.1C536.8 281.2 537.5 281.2 538.1 281.3C538.8 281.3 539.5 281.4 540.1 281.4C540.8 281.5 541.5 281.5 542.1 281.6C542.8 281.6 543.5 281.7 544.1 281.7C544.8 281.8 545.5 281.8 546.1 281.9C546.8 281.9 547.5 281.9 548.1 282.0C548.8 282.0 549.5 282.1 550.1 282.1C550.8 282.2 551.5 282.2 552.1 282.2C552.8 282.3 553.5 282.3 554.1 282.4C554.8 282.4 555.5 282.4 556.1 282.5C556.8 282.5 557.5 282.5 558.1 282.6C558.8 282.6 559.5 282.6 560.1 282.7C560.8 282.7 561.5 282.7 562.1 282.8C562.8 282.8 563.5 282.8 564.1 282.9C564.8 282.9 565.5 282.9 566.1 282.9C566.8 283.0 567.5 283.0 568.1 283.0C568.8 283.0 569.5 283.1 570.1 283.1C570.8 283.1 571.5 283.1 572.1 283.2C572.8 283.2 573.5 283.2 574.1 283.3C574.8 283.3 575.5 283.3 576.1 283.4C576.8 283.4 577.5 283.4 578.1 283.4C578.8 283.5 579.5 283.5 580.1 283.5C580.8 283.6 581.5 283.6 582.1 283.6C582.8 283.6 583.5 283.7 584.1 283.7C584.8 283.7 585.5 283.7 586.1 283.8C586.8 283.8 587.5 283.8 588.1 283.8C588.8 283.8 589.5 283.9 590.1 283.9C590.8 283.9 591.5 283.9 592.1 283.9C592.8 283.9 593.5 283.9 594.1 283.9C594.8 283.9 595.5 283.9 596.1 284.0C596.8 284.0 597.5 284.0 598.1 284.0C598.8 284.0 599.5 284.0 600.1 284.0C600.8 284.0 601.5 284.0 602.1 283.9C602.8 283.9 603.5 283.9 604.1 283.9C604.8 283.9 605.5 283.9 606.1 283.9C606.8 283.9 607.5 283.9 608.1 283.9C608.8 283.8 609.5 283.8 610.1 283.8C610.8 283.8 611.5 283.8 612.1 283.7C612.8 283.7 613.5 283.7 614.1 283.7C614.8 283.6 615.5 283.6 616.1 283.6C616.8 283.6 617.5 283.5 618.1 283.5C618.8 283.5 619.5 283.4 620.1 283.4C620.8 283.4 621.5 283.3 622.1 283.3C622.8 283.3 623.5 283.2 624.1 283.2C624.8 283.2 625.5 283.1 626.1 283.1C626.8 283.1 627.5 283.0 628.1 283.0C628.8 283.0 629.5 282.9 630.1 282.9C630.8 282.9 631.5 282.8 632.1 282.8C632.8 282.8 633.5 282.7 634.1 282.7C634.8 282.7 635.5 282.6 636.1 282.6C636.8 282.6 637.5 282.5 638.1 282.5C638.8 282.4 639.5 282.4 640.1 282.4C640.8 282.3 641.5 282.3 642.1 282.2C642.8 282.2 643.5 282.2 644.1 282.1C644.8 282.1 645.5 282.0 646.1 282.0C646.8 281.9 647.5 281.9 648.1 281.8C648.8 281.7 649.5 281.7 650.1 281.6C650.8 281.5 651.5 281.5 652.1 281.4C652.8 281.3 653.5 281.3 654.1 281.2C654.8 281.1 655.5 281.1 656.1 281.0C656.8 280.9 657.5 280.8 658.1 280.8C658.8 280.7 659.5 280.6 660.1 280.5C660.8 280.4 661.5 280.4 662.1 280.3C662.8 280.2 663.5 280.1 664.1 280.0C664.8 280.0 665.5 279.9 666.1 279.8C666.8 279.7 667.5 279.6 668.1 279.5C668.8 279.5 669.5 279.4 670.1 279.3C670.8 279.2 671.5 279.1 672.1 279.0C672.8 278.9 673.5 278.9 674.1 278.8C674.8 278.7 675.5 278.6 676.1 278.5C676.8 278.4 677.5 278.3 678.1 278.2C678.8 278.1 679.5 278.1 680.1 278.0C680.8 277.9 681.5 277.8 682.1 277.7C682.8 277.6 683.5 277.5 684.1 277.4C684.8 277.3 685.5 277.2 686.1 277.0C686.8 276.9 687.5 276.8 688.1 276.7C688.8 276.6 689.5 276.5 690.1 276.4C690.8 276.2 691.5 276.1 692.1 276.0C692.8 275.9 693.5 275.7 694.1 275.6C694.8 275.5 695.5 275.4 696.1 275.2C696.8 275.1 697.5 275.0 698.1 274.8C698.8 274.7 699.5 274.6 700.1 274.4C700.8 274.3 701.5 274.1 702.1 274.0C702.8 273.9 703.5 273.7 704.1 273.6C704.8 273.4 705.5 273.3 706.1 273.1C706.8 273.0 707.5 272.8 708.1 272.7C708.8 272.5 709.5 272.4 710.1 272.2C710.8 272.0 711.5 271.9 712.1 271.7C712.8 271.6 713.5 271.4 714.1 271.2C714.8 271.1 715.5 270.9 716.1 270.7C716.8 270.6 717.5 270.4 718.1 270.2C718.8 270.1 719.5 269.9 720.1 269.7C720.8 269.6 721.5 269.4 722.1 269.2C722.8 269.0 723.5 268.9 724.1 268.7C724.8 268.5 725.5 268.3 726.1 268.1C726.8 268.0 727.5 267.8 728.1 267.6C728.8 267.4 729.5 267.2 730.1 267.0C730.8 266.8 731.5 266.6 732.1 266.4C732.8 266.2 733.5 266.0 734.1 265.8C734.8 265.5 735.5 265.3 736.1 265.1C736.8 264.8 737.5 264.6 738.1 264.4C738.8 264.1 739.5 263.8 740.1 263.6C740.8 263.3 741.5 263.0 742.1 262.8C742.8 262.5 743.5 262.2 744.1 261.9C744.8 261.6 745.5 261.3 746.1 261.0C746.8 260.7 747.5 260.4 748.1 260.1C748.8 259.7 749.5 259.4 750.1 259.1C750.8 258.8 751.5 258.4 752.1 258.1C752.8 257.8 753.5 257.5 754.1 257.1C754.8 256.8 755.5 256.5 756.1 256.2C756.8 255.8 757.5 255.5 758.1 255.2C758.8 254.8 759.5 254.5 760.1 254.2C760.8 253.9 761.5 253.5 762.1 253.2C762.8 252.9 763.5 252.6 764.1 252.2C764.8 251.9 765.5 251.6 766.1 251.3C766.8 250.9 767.5 250.6 768.1 250.3C768.8 250.0 769.5 249.7 770.1 249.3C770.8 249.0 771.5 248.7 772.1 248.4C772.8 248.1 773.5 247.7 774.1 247.4C774.8 247.1 775.5 246.8 776.1 246.5C776.8 246.1 777.5 245.8 778.1 245.5C778.8 245.2 779.5 244.9 780.1 244.6C780.8 244.3 781.5 243.9 782.1 243.6C782.8 243.3 783.5 243.0 784.1 242.7C784.8 242.4 785.5 242.1 786.1 241.8C786.8 241.5 787.5 241.2 788.1 240.9C788.8 240.6 789.5 240.3 790.1 240.0C790.8 239.7 791.5 239.4 792.1 239.1C792.8 238.8 793.5 238.5 794.1 238.2C794.8 237.9 795.5 237.6 796.1 237.3C796.8 237.0 797.5 236.7 798.1 236.4C798.8 236.2 799.5 235.9 800.1 235.6C800.8 235.4 801.5 235.1 802.1 234.8C802.8 234.6 803.5 234.3 804.1 234.1C804.8 233.8 805.5 233.6 806.1 233.4C806.8 233.1 807.5 232.9 808.1 232.7C808.8 232.4 809.5 232.2 810.1 232.0C810.8 231.8 811.5 231.6 812.1 231.4C812.8 231.2 813.5 231.0 814.1 230.8C814.8 230.6 815.5 230.4 816.1 230.2C816.8 230.0 817.5 229.8 818.1 229.6C818.8 229.4 819.5 229.2 820.1 229.0C820.8 228.8 821.5 228.5 822.1 228.3C822.8 228.1 823.5 227.9 824.1 227.6C824.8 227.4 825.5 227.2 826.1 226.9C826.8 226.7 827.5 226.4 828.1 226.1C828.8 225.9 829.5 225.6 830.1 225.3C830.8 225.0 831.5 224.8 832.1 224.5C832.8 224.2 833.5 223.9 834.1 223.6C834.8 223.3 835.5 223.0 836.1 222.7C836.8 222.4 837.5 222.1 838.1 221.8C838.8 221.4 839.5 221.1 840.1 220.8C840.8 220.5 841.5 220.2 842.1 219.8C842.8 219.5 843.5 219.2 844.1 218.9C844.8 218.5 845.5 218.2 846.1 217.9C846.8 217.5 847.5 217.2 848.1 216.9C848.8 216.5 849.5 216.2 850.1 215.8C850.8 215.5 851.5 215.1 852.1 214.8C852.8 214.4 853.5 214.1 854.1 213.7C854.8 213.4 855.5 213.0 856.1 212.6C856.8 212.3 857.5 211.9 858.1 211.5C858.8 211.2 859.5 210.8 860.1 210.4C860.8 210.1 861.5 209.7 862.1 209.3C862.8 209.0 863.5 208.6 864.1 208.2C864.8 207.8 865.5 207.5 866.1 207.1C866.8 206.7 867.5 206.3 868.1 206.0C868.8 205.6 869.5 205.2 870.1 204.8C870.8 204.4 871.5 204.0 872.1 203.6C872.8 203.3 873.5 202.9 874.1 202.5C874.8 202.1 875.5 201.7 876.1 201.3C876.8 200.9 877.5 200.5 878.1 200.1C878.8 199.7 879.5 199.3 880.1 198.9C880.8 198.5 881.5 198.1 882.1 197.7C882.8 197.3 883.5 196.9 884.1 196.5C884.8 196.1 885.5 195.7 886.1 195.3C886.8 195.0 887.5 194.6 888.1 194.2C888.8 193.8 889.5 193.4 890.1 193.0C890.8 192.6 891.5 192.2 892.1 191.8C892.8 191.4 893.5 191.0 894.1 190.6C894.8 190.2 895.5 189.8 896.1 189.5C896.8 189.1 897.5 188.7 898.1 188.3C898.8 187.9 899.5 187.5 900.1 187.1C900.8 186.7 901.5 186.4 902.1 186.0C902.8 185.6 903.5 185.2 904.1 184.8C904.8 184.4 905.5 184.1 906.1 183.7C906.8 183.3 907.5 182.9 908.1 182.5C908.8 182.2 909.5 181.8 910.1 181.4C910.8 181.1 911.5 180.7 912.1 180.3C912.8 179.9 913.5 179.6 914.1 179.2C914.8 178.9 915.5 178.5 916.1 178.1C916.8 177.8 917.5 177.4 918.1 177.1C918.8 176.7 919.5 176.4 920.1 176.0C920.8 175.7 921.5 175.3 922.1 175.0C922.8 174.6 923.5 174.3 924.1 173.9C924.8 173.6 925.5 173.3 926.1 172.9C926.8 172.6 927.5 172.2 928.1 171.9C928.8 171.6 929.5 171.3 930.1 170.9C930.8 170.6 931.5 170.3 932.1 170.0C932.8 169.7 933.5 169.4 934.1 169.1C934.8 168.8 935.5 168.5 936.1 168.2C936.8 167.9 937.5 167.7 938.1 167.4C938.8 167.1 939.5 166.9 940.1 166.6C940.8 166.4 941.5 166.1 942.1 165.9C942.8 165.6 943.7 165.4 944.1 165.2C944.6 164.9 944.6 164.6 944.7 164.5" fill="none" stroke="#f57c00" stroke-width="1.25" stroke-linejoin="round" stroke-linecap="round"/>
<path d="M2.1 267.6C2.5 267.5 3.5 267.5 4.1 267.5C4.8 267.5 5.5 267.5 6.1 267.5C6.8 267.4 7.5 267.4 8.1 267.4C8.8 267.4 9.5 267.4 10.1 267.4C10.8 267.3 11.5 267.3 12.1 267.3C12.8 267.3 13.5 267.3 14.1 267.3C14.8 267.2 15.5 267.2 16.1 267.2C16.8 267.2 17.5 267.2 18.1 267.2C18.8 267.2 19.5 267.2 20.1 267.1C20.8 267.1 21.5 267.1 22.1 267.1C22.8 267.1 23.5 267.1 24.1 267.1C24.8 267.1 25.5 267.1 26.1 267.1C26.8 267.1 27.5 267.1 28.1 267.1C28.8 267.1 29.5 267.1 30.1 267.1C30.8 267.1 31.5 267.1 32.1 267.1C32.8 267.1 33.5 267.1 34.1 267.1C34.8 267.1 35.5 267.2 36.1 267.2C36.8 267.2 37.5 267.2 38.1 267.3C38.8 267.3 39.5 267.3 40.1 267.4C40.8 267.4 41.5 267.5 42.1 267.5C42.8 267.6 43.5 267.6 44.1 267.7C44.8 267.8 45.5 267.8 46.1 267.9C46.8 268.0 47.5 268.1 48.1 268.2C48.8 268.2 49.5 268.3 50.1 268.4C50.8 268.5 51.5 268.6 52.1 268.7C52.8 268.9 53.5 269.0 54.1 269.1C54.8 269.2 55.5 269.3 56.1 269.4C56.8 269.6 57.5 269.7 58.1 269.8C58.8 269.9 59.5 270.0 60.1 270.2C60.8 270.3 61.5 270.4 62.1 270.5C62.8 270.7 63.5 270.8 64.1 270.9C64.8 271.0 65.5 271.1 66.1 271.2C66.8 271.3 67.5 271.4 68.1 271.5C68.8 271.6 69.5 271.7 70.1 271.8C70.8 271.9 71.5 272.0 72.1 272.1C72.8 272.1 73.5 272.2 74.1 272.3C74.8 272.3 75.5 272.4 76.1 272.5C76.8 272.5 77.5 272.6 78.1 272.6C78.8 272.6 79.5 272.7 80.1 272.7C80.8 272.7 81.5 272.8 82.1 272.8C82.8 272.8 83.5 272.8 84.1 272.9C84.8 272.9 85.5 272.9 86.1 272.9C86.8 272.9 87.5 272.9 88.1 272.9C88.8 272.9 89.5 272.9 90.1 272.9C90.8 273.0 91.5 273.0 92.1 273.0C92.8 273.0 93.5 273.0 94.1 273.0C94.8 273.0 95.5 273.0 96.1 273.0C96.8 273.0 97.5 273.0 98.1 273.0C98.8 273.0 99.5 273.0 100.1 273.1C100.8 273.1 101.5 273.1 102.1 273.1C102.8 273.1 103.5 273.1 104.1 273.1C104.8 273.1 105.5 273.0 106.1 273.0C106.8 273.0 107.5 273.0 108.1 273.0C108.8 273.0 109.5 272.9 110.1 272.9C110.8 272.9 111.5 272.8 112.1 272.8C112.8 272.7 113.5 272.6 114.1 272.6C114.8 272.5 115.5 272.4 116.1 272.3C116.8 272.2 117.5 272.1 118.1 272.0C118.8 271.9 119.5 271.8 120.1 271.7C120.8 271.6 121.5 271.5 122.1 271.3C122.8 271.2 123.5 271.1 124.1 270.9C124.8 270.8 125.5 270.7 126.1 270.5C126.8 270.4 127.5 270.3 128.1 270.1C128.8 270.0 129.5 269.8 130.1 269.7C130.8 269.6 131.5 269.4 132.1 269.3C132.8 269.1 133.5 269.0 134.1 268.9C134.8 268.7 135.5 268.6 136.1 268.5C136.8 268.3 137.5 268.2 138.1 268.1C138.8 268.0 139.5 267.8 140.1 267.7C140.8 267.6 141.5 267.5 142.1 267.4C142.8 267.3 143.5 267.2 144.1 267.1C144.8 267.0 145.5 266.9 146.1 266.9C146.8 266.8 147.5 266.7 148.1 266.6C148.8 266.6 149.5 266.5 150.1 266.4C150.8 266.4 151.5 266.3 152.1 266.3C152.8 266.2 153.5 266.2 154.1 266.1C154.8 266.1 155.5 266.0 156.1 266.0C156.8 265.9 157.5 265.9 158.1 265.9C158.8 265.8 159.5 265.8 160.1 265.7C160.8 265.7 161.5 265.6 162.1 265.6C162.8 265.5 163.5 265.5 164.1 265.4C164.8 265.4 165.5 265.4 166.1 265.3C166.8 265.3 167.5 265.2 168.1 265.2C168.8 265.1 169.5 265.1 170.1 265.0C170.8 265.0 171.5 264.9 172.1 264.9C172.8 264.8 173.5 264.8 174.1 264.7C174.8 264.7 175.5 264.7 176.1 264.6C176.8 264.6 177.5 264.5 178.1 264.5C178.8 264.5 179.5 264.4 180.1 264.4C180.8 264.4 181.5 264.3 182.1 264.3C182.8 264.3 183.5 264.2 184.1 264.2C184.8 264.2 185.5 264.1 186.1 264.1C186.8 264.0 187.5 264.0 188.1 263.9C188.8 263.9 189.5 263.8 190.1 263.8C190.8 263.7 191.5 263.6 192.1 263.5C192.8 263.5 193.5 263.4 194.1 263.3C194.8 263.2 195.5 263.0 196.1 262.9C196.8 262.8 197.5 262.7 198.1 262.5C198.8 262.4 199.5 262.2 200.1 262.1C200.8 261.9 201.5 261.7 202.1 261.6C202.8 261.4 203.5 261.2 204.1 261.1C204.8 260.9 205.5 260.7 206.1 260.5C206.8 260.4 207.5 260.2 208.1 260.0C208.8 259.9 209.5 259.7 210.1 259.5C210.8 259.4 211.5 259.2 212.1 259.1C212.8 258.9 213.5 258.8 214.1 258.6C214.8 258.5 215.5 258.3 216.1 258.2C216.8 258.1 217.5 258.0 218.1 257.8C218.8 257.7 219.5 257.6 220.1 257.5C220.8 257.4 221.5 257.3 222.1 257.3C222.8 257.2 223.5 257.1 224.1 257.0C224.8 257.0 225.5 256.9 226.1 256.9C226.8 256.8 227.5 256.8 228.1 256.7C228.8 256.7 229.5 256.6 230.1 256.6C230.8 256.6 231.5 256.6 232.1 256.5C232.8 256.5 233.5 256.5 234.1 256.5C234.8 256.5 235.5 256.5 236.1 256.5C236.8 256.4 237.5 256.4 238.1 256.4C238.8 256.4 239.5 256.4 240.1 256.4C240.8 256.4 241.5 256.3 242.1 256.3C242.8 256.3 243.5 256.3 244.1 256.3C244.8 256.3 245.5 256.2 246.1 256.2C246.8 256.2 247.5 256.2 248.1 256.1C248.8 256.1 249.5 256.1 250.1 256.1C250.8 256.0 251.5 256.0 252.1 256.0C252.8 255.9 253.5 255.9 254.1 255.9C254.8 255.8 255.5 255.8 256.1 255.8C256.8 255.8 257.5 255.7 258.1 255.7C258.8 255.7 259.5 255.7 260.1 255.6C260.8 255.6 261.5 255.6 262.1 255.6C262.8 255.6 263.5 255.6 264.1 255.5C264.8 255.5 265.5 255.5 266.1 255.5C266.8 255.5 267.5 255.5 268.1 255.5C268.8 255.5 269.5 255.5 270.1 255.5C270.8 255.5 271.5 255.5 272.1 255.5C272.8 255.5 273.5 255.5 274.1 255.6C274.8 255.6 275.5 255.6 276.1 255.6C276.8 255.6 277.5 255.6 278.1 255.6C278.8 255.6 279.5 255.6 280.1 255.6C280.8 255.6 281.5 255.6 282.1 255.6C282.8 255.7 283.5 255.7 284.1 255.7C284.8 255.7 285.5 255.7 286.1 255.7C286.8 255.7 287.5 255.6 288.1 255.6C288.8 255.6 289.5 255.6 290.1 255.6C290.8 255.6 291.5 255.6 292.1 255.6C292.8 255.6 293.5 255.6 294.1 255.5C294.8 255.5 295.5 255.5 296.1 255.5C296.8 255.5 297.5 255.5 298.1 255.5C298.8 255.4 299.5 255.4 300.1 255.4C300.8 255.4 301.5 255.4 302.1 255.4C302.8 255.3 303.5 255.3 304.1 255.3C304.8 255.3 305.5 255.3 306.1 255.3C306.8 255.3 307.5 255.2 308.1 255.2C308.8 255.2 309.5 255.2 310.1 255.2C310.8 255.2 311.5 255.2 312.1 255.2C312.8 255.2 313.5 255.2 314.1 255.2C314.8 255.2 315.5 255.2 316.1 255.3C316.8 255.3 317.5 255.3 318.1 255.3C318.8 255.3 319.5 255.3 320.1 255.4C320.8 255.4 321.5 255.4 322.1 255.4C322.8 255.5 323.5 255.5 324.1 255.5C324.8 255.6 325.5 255.6 326.1 255.6C326.8 255.7 327.5 255.7 328.1 255.8C328.8 255.8 329.5 255.8 330.1 255.9C330.8 255.9 331.5 256.0 332.1 256.0C332.8 256.1 333.5 256.1 334.1 256.2C334.8 256.2 335.5 256.3 336.1 256.3C336.8 256.4 337.5 256.4 338.1 256.5C338.8 256.6 339.5 256.6 340.1 256.7C340.8 256.7 341.5 256.8 342.1 256.8C342.8 256.9 343.5 256.9 344.1 257.0C344.8 257.1 345.5 257.1 346.1 257.2C346.8 257.2 347.5 257.3 348.1 257.4C348.8 257.4 349.5 257.5 350.1 257.5C350.8 257.6 351.5 257.7 352.1 257.7C352.8 257.8 353.5 257.8 354.1 257.9C354.8 257.9 355.5 258.0 356.1 258.1C356.8 258.1 357.5 258.2 358.1 258.2C358.8 258.3 359.5 258.3 360.1 258.4C360.8 258.5 361.5 258.5 362.1 258.6C362.8 258.6 363.5 258.6 364.1 258.7C364.8 258.7 365.5 258.8 366.1 258.8C366.8 258.9 367.5 258.9 368.1 259.0C368.8 259.0 369.5 259.0 370.1 259.1C370.8 259.1 371.5 259.2 372.1 259.2C372.8 259.2 373.5 259.3 374.1 259.3C374.8 259.3 375.5 259.4 376.1 259.4C376.8 259.4 377.5 259.5 378.1 259.5C378.8 259.6 379.5 259.6 380.1 259.6C380.8 259.7 381.5 259.7 382.1 259.7C382.8 259.8 383.5 259.8 384.1 259.8C384.8 259.9 385.5 259.9 386.1 259.9C386.8 260.0 387.5 260.0 388.1 260.0C388.8 260.1 389.5 260.1 390.1 260.2C390.8 260.2 391.5 260.2 392.1 260.3C392.8 260.3 393.5 260.4 394.1 260.4C394.8 260.5 395.5 260.5 396.1 260.6C396.8 260.6 397.5 260.7 398.1 260.7C398.8 260.8 399.5 260.9 400.1 261.0C400.8 261.1 401.5 261.1 402.1 261.2C402.8 261.3 403.5 261.4 404.1 261.6C404.8 261.7 405.5 261.8 406.1 261.9C406.8 262.1 407.5 262.2 408.1 262.4C408.8 262.5 409.5 262.7 410.1 262.9C410.8 263.1 411.5 263.2 412.1 263.4C412.8 263.6 413.5 263.8 414.1 264.0C414.8 264.2 415.5 264.4 416.1 264.6C416.8 264.9 417.5 265.1 418.1 265.3C418.8 265.5 419.5 265.8 420.1 266.0C420.8 266.2 421.5 266.4 422.1 266.7C422.8 266.9 423.5 267.2 424.1 267.4C424.8 267.6 425.5 267.9 426.1 268.1C426.8 268.4 427.5 268.6 428.1 268.8C428.8 269.1 429.5 269.3 430.1 269.6C430.8 269.8 431.5 270.0 432.1 270.3C432.8 270.5 433.5 270.8 434.1 271.0C434.8 271.3 435.5 271.5 436.1 271.7C436.8 272.0 437.5 272.2 438.1 272.5C438.8 272.7 439.5 273.0 440.1 273.2C440.8 273.4 441.5 273.7 442.1 273.9C442.8 274.2 443.5 274.4 444.1 274.6C444.8 274.9 445.5 275.1 446.1 275.4C446.8 275.6 447.5 275.9 448.1 276.1C448.8 276.3 449.5 276.6 450.1 276.8C450.8 277.1 451.5 277.3 452.1 277.5C452.8 277.8 453.5 278.0 454.1 278.3C454.8 278.5 455.5 278.7 456.1 279.0C456.8 279.2 457.5 279.4 458.1 279.7C458.8 279.9 459.5 280.1 460.1 280.3C460.8 280.5 461.5 280.7 462.1 280.9C462.8 281.2 463.5 281.3 464.1 281.5C464.8 281.7 465.5 281.9 466.1 282.1C466.8 282.2 467.5 282.4 468.1 282.5C468.8 282.7 469.5 282.8 470.1 282.9C470.8 283.1 471.5 283.2 472.1 283.3C472.8 283.4 473.5 283.5 474.1 283.6C474.8 283.7 475.5 283.8 476.1 283.9C476.8 284.0 477.5 284.1 478.1 284.2C478.8 284.3 479.5 284.4 480.1 284.5C480.8 284.6 481.5 284.6 482.1 284.7C482.8 284.8 483.5 284.9 484.1 284.9C484.8 285.0 485.5 285.1 486.1 285.2C486.8 285.2 487.5 285.3 488.1 285.4C488.8 285.4 489.5 285.5 490.1 285.6C490.8 285.6 491.5 285.7 492.1 285.8C492.8 285.8 493.5 285.9 494.1 286.0C494.8 286.0 495.5 286.1 496.1 286.2C496.8 286.2 497.5 286.3 498.1 286.4C498.8 286.5 499.5 286.5 500.1 286.6C500.8 286.7 501.5 286.7 502.1 286.8C502.8 286.9 503.5 287.0 504.1 287.0C504.8 287.1 505.5 287.2 506.1 287.3C506.8 287.4 507.5 287.4 508.1 287.5C508.8 287.6 509.5 287.7 510.1 287.8C510.8 287.8 511.5 287.9 512.1 288.0C512.8 288.1 513.5 288.2 514.1 288.2C514.8 288.3 515.5 288.4 516.1 288.5C516.8 288.5 517.5 288.6 518.1 288.7C518.8 288.8 519.5 288.8 520.1 288.9C520.8 289.0 521.5 289.0 522.1 289.1C522.8 289.2 523.5 289.2 524.1 289.3C524.8 289.4 525.5 289.4 526.1 289.5C526.8 289.6 527.5 289.6 528.1 289.7C528.8 289.7 529.5 289.8 530.1 289.9C530.8 289.9 531.5 290.0 532.1 290.0C532.8 290.1 533.5 290.2 534.1 290.2C534.8 290.3 535.5 290.3 536.1 290.4C536.8 290.4 537.5 290.5 538.1 290.5C538.8 290.6 539.5 290.6 540.1 290.7C540.8 290.7 541.5 290.8 542.1 290.8C542.8 290.9 543.5 291.0 544.1 291.0C544.8 291.1 545.5 291.1 546.1 291.2C546.8 291.2 547.5 291.3 548.1 291.3C548.8 291.4 549.5 291.4 550.1 291.5C550.8 291.5 551.5 291.6 552.1 291.6C552.8 291.7 553.5 291.7 554.1 291.8C554.8 291.8 555.5 291.9 556.1 291.9C556.8 292.0 557.5 292.0 558.1 292.0C558.8 292.1 559.5 292.1 560.1 292.2C560.8 292.2 561.5 292.2 562.1 292.3C562.8 292.3 563.5 292.4 564.1 292.4C564.8 292.4 565.5 292.4 566.1 292.5C566.8 292.5 567.5 292.5 568.1 292.5C568.8 292.5 569.5 292.5 570.1 292.5C570.8 292.5 571.5 292.5 572.1 292.5C572.8 292.5 573.5 292.5 574.1 292.5C574.8 292.4 575.5 292.4 576.1 292.4C576.8 292.4 577.5 292.3 578.1 292.3C578.8 292.3 579.5 292.2 580.1 292.2C580.8 292.2 581.5 292.1 582.1 292.1C582.8 292.1 583.5 292.0 584.1 292.0C584.8 291.9 585.5 291.9 586.1 291.8C586.8 291.8 587.5 291.7 588.1 291.6C588.8 291.6 589.5 291.5 590.1 291.4C590.8 291.4 591.5 291.3 592.1 291.2C592.8 291.1 593.5 291.1 594.1 291.0C594.8 290.9 595.5 290.8 596.1 290.7C596.8 290.6 597.5 290.5 598.1 290.4C598.8 290.3 599.5 290.2 600.1 290.1C600.8 290.0 601.5 289.9 602.1 289.9C602.8 289.8 603.5 289.7 604.1 289.6C604.8 289.5 605.5 289.4 606.1 289.3C606.8 289.2 607.5 289.1 608.1 289.0C608.8 289.0 609.5 288.9 610.1 288.8C610.8 288.7 611.5 288.6 612.1 288.6C612.8 288.5 613.5 288.4 614.1 288.3C614.8 288.3 615.5 288.2 616.1 288.1C616.8 288.1 617.5 288.0 618.1 287.9C618.8 287.8 619.5 287.8 620.1 287.7C620.8 287.6 621.5 287.6 622.1 287.5C622.8 287.4 623.5 287.3 624.1 287.3C624.8 287.2 625.5 287.1 626.1 287.0C626.8 287.0 627.5 286.9 628.1 286.8C628.8 286.7 629.5 286.6 630.1 286.5C630.8 286.4 631.5 286.4 632.1 286.3C632.8 286.2 633.5 286.1 634.1 286.0C634.8 285.9 635.5 285.8 636.1 285.7C636.8 285.6 637.5 285.5 638.1 285.4C638.8 285.3 639.5 285.2 640.1 285.1C640.8 284.9 641.5 284.8 642.1 284.7C642.8 284.6 643.5 284.5 644.1 284.3C644.8 284.2 645.5 284.0 646.1 283.9C646.8 283.7 647.5 283.6 648.1 283.4C648.8 283.3 649.5 283.1 650.1 282.9C650.8 282.7 651.5 282.5 652.1 282.3C652.8 282.1 653.5 281.9 654.1 281.7C654.8 281.5 655.5 281.2 656.1 281.0C656.8 280.8 657.5 280.5 658.1 280.3C658.8 280.0 659.5 279.8 660.1 279.5C660.8 279.3 661.5 279.0 662.1 278.7C662.8 278.5 663.5 278.2 664.1 277.9C664.8 277.6 665.5 277.3 666.1 277.1C666.8 276.8 667.5 276.5 668.1 276.2C668.8 275.9 669.5 275.6 670.1 275.3C670.8 275.0 671.5 274.6 672.1 274.3C672.8 274.0 673.5 273.7 674.1 273.4C674.8 273.1 675.5 272.8 676.1 272.4C676.8 272.1 677.5 271.8 678.1 271.5C678.8 271.2 679.5 270.8 680.1 270.5C680.8 270.2 681.5 269.9 682.1 269.6C682.8 269.2 683.5 268.9 684.1 268.6C684.8 268.3 685.5 267.9 686.1 267.6C686.8 267.3 687.5 267.0 688.1 266.6C688.8 266.3 689.5 266.0 690.1 265.6C690.8 265.3 691.5 265.0 692.1 264.7C692.8 264.3 693.5 264.0 694.1 263.7C694.8 263.3 695.5 263.0 696.1 262.7C696.8 262.3 697.5 262.0 698.1 261.7C698.8 261.4 699.5 261.0 700.1 260.7C700.8 260.4 701.5 260.1 702.1 259.8C702.8 259.4 703.5 259.1 704.1 258.8C704.8 258.5 705.5 258.2 706.1 257.9C706.8 257.6 707.5 257.3 708.1 257.0C708.8 256.8 709.5 256.5 710.1 256.2C710.8 255.9 711.5 255.6 712.1 255.4C712.8 255.1 713.5 254.8 714.1 254.6C714.8 254.3 715.5 254.0 716.1 253.8C716.8 253.5 717.5 253.2 718.1 253.0C718.8 252.7 719.5 252.5 720.1 252.2C720.8 252.0 721.5 251.7 722.1 251.5C722.8 251.2 723.5 251.0 724.1 250.8C724.8 250.5 725.5 250.3 726.1 250.1C726.8 249.8 727.5 249.6 728.1 249.4C728.8 249.2 729.5 248.9 730.1 248.7C730.8 248.5 731.5 248.3 732.1 248.1C732.8 247.9 733.5 247.7 734.1 247.5C734.8 247.3 735.5 247.1 736.1 246.8C736.8 246.6 737.5 246.4 738.1 246.2C738.8 246.0 739.5 245.8 740.1 245.6C740.8 245.4 741.5 245.2 742.1 245.0C742.8 244.7 743.5 244.5 744.1 244.3C744.8 244.1 745.5 243.9 746.1 243.7C746.8 243.5 747.5 243.2 748.1 243.0C748.8 242.8 749.5 242.6 750.1 242.4C750.8 242.2 751.5 242.0 752.1 241.8C752.8 241.5 753.5 241.3 754.1 241.1C754.8 240.9 755.5 240.7 756.1 240.4C756.8 240.2 757.5 240.0 758.1 239.8C758.8 239.6 759.5 239.3 760.1 239.1C760.8 238.9 761.5 238.6 762.1 238.4C762.8 238.1 763.5 237.9 764.1 237.7C764.8 237.4 765.5 237.2 766.1 236.9C766.8 236.6 767.5 236.4 768.1 236.1C768.8 235.9 769.5 235.6 770.1 235.4C770.8 235.1 771.5 234.8 772.1 234.6C772.8 234.3 773.5 234.0 774.1 233.8C774.8 233.5 775.5 233.2 776.1 233.0C776.8 232.7 777.5 232.4 778.1 232.2C778.8 231.9 779.5 231.6 780.1 231.3C780.8 231.1 781.5 230.8 782.1 230.5C782.8 230.2 783.5 229.9 784.1 229.6C784.8 229.4 785.5 229.1 786.1 228.8C786.8 228.5 787.5 228.2 788.1 227.9C788.8 227.6 789.5 227.3 790.1 227.0C790.8 226.7 791.5 226.4 792.1 226.1C792.8 225.8 793.5 225.5 794.1 225.2C794.8 224.9 795.5 224.6 796.1 224.4C796.8 224.1 797.5 223.8 798.1 223.5C798.8 223.2 799.5 222.9 800.1 222.6C800.8 222.3 801.5 222.0 802.1 221.7C802.8 221.4 803.5 221.1 804.1 220.8C804.8 220.5 805.5 220.3 806.1 220.0C806.8 219.7 807.5 219.4 808.1 219.1C808.8 218.8 809.5 218.6 810.1 218.3C810.8 218.0 811.5 217.7 812.1 217.4C812.8 217.2 813.5 216.9 814.1 216.6C814.8 216.3 815.5 216.0 816.1 215.7C816.8 215.4 817.5 215.2 818.1 214.9C818.8 214.6 819.5 214.3 820.1 214.0C820.8 213.7 821.5 213.4 822.1 213.1C822.8 212.7 823.5 212.4 824.1 212.1C824.8 211.8 825.5 211.5 826.1 211.1C826.8 210.8 827.5 210.4 828.1 210.1C828.8 209.7 829.5 209.4 830.1 209.0C830.8 208.7 831.5 208.3 832.1 208.0C832.8 207.6 833.5 207.2 834.1 206.9C834.8 206.5 835.5 206.1 836.1 205.7C836.8 205.4 837.5 205.0 838.1 204.6C838.8 204.3 839.5 203.9 840.1 203.5C840.8 203.2 841.5 202.8 842.1 202.4C842.8 202.0 843.5 201.7 844.1 201.3C844.8 200.9 845.5 200.6 846.1 200.2C846.8 199.8 847.5 199.4 848.1 199.0C848.8 198.7 849.5 198.3 850.1 197.9C850.8 197.5 851.5 197.1 852.1 196.7C852.8 196.3 853.5 195.9 854.1 195.5C854.8 195.1 855.5 194.7 856.1 194.3C856.8 194.0 857.5 193.6 858.1 193.2C858.8 192.8 859.5 192.4 860.1 192.0C860.8 191.5 861.5 191.1 862.1 190.7C862.8 190.3 863.5 189.9 864.1 189.5C864.8 189.1 865.5 188.7 866.1 188.3C866.8 187.9 867.5 187.5 868.1 187.1C868.8 186.6 869.5 186.2 870.1 185.8C870.8 185.4 871.5 184.9 872.1 184.5C872.8 184.1 873.5 183.7 874.1 183.2C874.8 182.8 875.5 182.4 876.1 181.9C876.8 181.5 877.5 181.1 878.1 180.6C878.8 180.2 879.5 179.7 880.1 179.3C880.8 178.9 881.5 178.4 882.1 178.0C882.8 177.6 883.5 177.1 884.1 176.7C884.8 176.3 885.5 175.8 886.1 175.4C886.8 175.0 887.5 174.5 888.1 174.1C888.8 173.7 889.5 173.2 890.1 172.8C890.8 172.4 891.5 172.0 892.1 171.5C892.8 171.1 893.5 170.7 894.1 170.2C894.8 169.8 895.5 169.4 896.1 169.0C896.8 168.5 897.5 168.1 898.1 167.7C898.8 167.2 899.5 166.8 900.1 166.4C900.8 165.9 901.5 165.5 902.1 165.0C902.8 164.6 903.5 164.1 904.1 163.7C904.8 163.3 905.5 162.8 906.1 162.4C906.8 161.9 907.5 161.5 908.1 161.0C908.8 160.6 909.5 160.2 910.1 159.7C910.8 159.3 911.5 158.9 912.1 158.4C912.8 158.0 913.5 157.6 914.1 157.2C914.8 156.8 915.5 156.4 916.1 156.0C916.8 155.6 917.5 155.2 918.1 154.8C918.8 154.4 919.5 154.0 920.1 153.6C920.8 153.2 921.5 152.8 922.1 152.4C922.8 152.0 923.5 151.6 924.1 151.2C924.8 150.8 925.5 150.5 926.1 150.1C926.8 149.7 927.5 149.3 928.1 148.9C928.8 148.6 929.5 148.2 930.1 147.8C930.8 147.5 931.5 147.1 932.1 146.7C932.8 146.4 933.5 146.0 934.1 145.7C934.8 145.3 935.5 145.0 936.1 144.7C936.8 144.4 937.5 144.0 938.1 143.7C938.8 143.4 939.5 143.1 940.1 142.8C940.8 142.5 941.5 142.2 942.1 142.0C942.8 141.7 943.7 141.4 944.1 141.1C944.6 140.9 944.6 140.5 944.7 140.3" fill="none" stroke="#089981" stroke-width="1.25" stroke-linejoin="round" stroke-linecap="round"/>
<path d="M1.6 278.4C1.9 278.4 2.9 278.3 3.6 278.3C4.3 278.3 4.9 278.3 5.6 278.2C6.3 278.2 6.9 278.2 7.6 278.1C8.3 278.1 8.9 278.1 9.6 278.0C10.3 278.0 10.9 277.9 11.6 277.9C12.3 277.8 12.9 277.7 13.6 277.7C14.3 277.6 14.9 277.5 15.6 277.4C16.3 277.3 16.9 277.2 17.6 277.0C18.3 276.9 18.9 276.7 19.6 276.5C20.3 276.4 20.9 276.2 21.6 275.9C22.3 275.7 22.9 275.4 23.6 275.1C24.3 274.8 24.9 274.5 25.6 274.2C26.3 273.9 26.9 273.5 27.6 273.2C28.3 272.8 28.9 272.5 29.6 272.1C30.3 271.8 30.9 271.4 31.6 271.1C32.3 270.7 32.9 270.4 33.6 270.1C34.3 269.7 34.9 269.4 35.6 269.0C36.3 268.7 36.9 268.4 37.6 268.0C38.3 267.7 38.9 267.4 39.6 267.1C40.3 266.8 40.9 266.5 41.6 266.2C42.3 265.9 42.9 265.6 43.6 265.3C44.3 265.0 44.9 264.8 45.6 264.5C46.3 264.3 46.9 264.0 47.6 263.8C48.3 263.6 48.9 263.3 49.6 263.1C50.3 262.9 50.9 262.7 51.6 262.5C52.3 262.3 52.9 262.1 53.6 261.9C54.3 261.7 54.9 261.5 55.6 261.3C56.3 261.1 56.9 260.9 57.6 260.7C58.3 260.5 58.9 260.4 59.6 260.2C60.3 260.0 60.9 259.9 61.6 259.7C62.3 259.6 62.9 259.4 63.6 259.3C64.3 259.2 64.9 259.1 65.6 259.0C66.3 258.9 66.9 258.9 67.6 258.8C68.3 258.8 68.9 258.8 69.6 258.7C70.3 258.7 70.9 258.7 71.6 258.7C72.3 258.7 72.9 258.7 73.6 258.7C74.3 258.7 74.9 258.7 75.6 258.7C76.3 258.7 76.9 258.6 77.6 258.6C78.3 258.5 78.9 258.4 79.6 258.3C80.3 258.2 80.9 258.1 81.6 258.0C82.3 257.9 82.9 257.8 83.6 257.7C84.3 257.6 84.9 257.5 85.6 257.4C86.3 257.3 86.9 257.2 87.6 257.1C88.3 257.0 88.9 256.9 89.6 256.9C90.3 256.8 90.9 256.8 91.6 256.7C92.3 256.7 92.9 256.7 93.6 256.7C94.3 256.7 94.9 256.7 95.6 256.7C96.3 256.8 96.9 256.8 97.6 256.9C98.3 256.9 98.9 257.0 99.6 257.0C100.3 257.1 100.9 257.2 101.6 257.3C102.3 257.4 102.9 257.5 103.6 257.6C104.3 257.7 104.9 257.8 105.6 257.9C106.3 258.1 106.9 258.2 107.6 258.3C108.3 258.5 108.9 258.6 109.6 258.7C110.3 258.8 110.9 259.0 111.6 259.1C112.3 259.2 112.9 259.4 113.6 259.5C114.3 259.6 114.9 259.7 115.6 259.8C116.3 259.9 116.9 260.1 117.6 260.2C118.3 260.3 118.9 260.4 119.6 260.4C120.3 260.5 120.9 260.6 121.6 260.7C122.3 260.8 122.9 260.8 123.6 260.9C124.3 260.9 124.9 261.0 125.6 261.0C126.3 261.1 126.9 261.1 127.6 261.1C128.3 261.1 128.9 261.1 129.6 261.1C130.3 261.2 130.9 261.2 131.6 261.2C132.3 261.2 132.9 261.2 133.6 261.2C134.3 261.2 134.9 261.1 135.6 261.1C136.3 261.1 136.9 261.1 137.6 261.1C138.3 261.0 138.9 261.0 139.6 260.9C140.3 260.9 140.9 260.8 141.6 260.8C142.3 260.7 142.9 260.7 143.6 260.6C144.3 260.5 144.9 260.4 145.6 260.4C146.3 260.3 146.9 260.2 147.6 260.1C148.3 260.0 148.9 259.9 149.6 259.9C150.3 259.8 150.9 259.7 151.6 259.6C152.3 259.5 152.9 259.5 153.6 259.4C154.3 259.3 154.9 259.3 155.6 259.2C156.3 259.1 156.9 259.1 157.6 259.0C158.3 259.0 158.9 258.9 159.6 258.9C160.3 258.8 160.9 258.8 161.6 258.7C162.3 258.7 162.9 258.7 163.6 258.6C164.3 258.6 164.9 258.6 165.6 258.6C166.3 258.6 166.9 258.5 167.6 258.5C168.3 258.5 168.9 258.5 169.6 258.5C170.3 258.5 170.9 258.5 171.6 258.5C172.3 258.5 172.9 258.5 173.6 258.5C174.3 258.5 174.9 258.5 175.6 258.5C176.3 258.6 176.9 258.6 177.6 258.6C178.3 258.6 178.9 258.6 179.6 258.5C180.3 258.5 180.9 258.5 181.6 258.5C182.3 258.4 182.9 258.4 183.6 258.3C184.3 258.2 184.9 258.1 185.6 258.0C186.3 257.9 186.9 257.8 187.6 257.7C188.3 257.5 188.9 257.4 189.6 257.3C190.3 257.1 190.9 257.0 191.6 256.9C192.3 256.7 192.9 256.6 193.6 256.4C194.3 256.3 194.9 256.1 195.6 256.0C196.3 255.8 196.9 255.7 197.6 255.5C198.3 255.3 198.9 255.2 199.6 255.0C200.3 254.8 200.9 254.6 201.6 254.5C202.3 254.3 202.9 254.1 203.6 253.9C204.3 253.7 204.9 253.5 205.6 253.4C206.3 253.2 206.9 253.0 207.6 252.8C208.3 252.7 208.9 252.5 209.6 252.3C210.3 252.1 210.9 252.0 211.6 251.8C212.3 251.7 212.9 251.5 213.6 251.4C214.3 251.2 214.9 251.1 215.6 251.0C216.3 250.8 216.9 250.7 217.6 250.6C218.3 250.5 218.9 250.4 219.6 250.3C220.3 250.2 220.9 250.1 221.6 250.1C222.3 250.0 222.9 250.0 223.6 250.0C224.3 250.0 224.9 250.0 225.6 250.1C226.3 250.1 226.9 250.1 227.6 250.2C228.3 250.3 228.9 250.3 229.6 250.4C230.3 250.5 230.9 250.5 231.6 250.6C232.3 250.7 232.9 250.7 233.6 250.8C234.3 250.8 234.9 250.9 235.6 251.0C236.3 251.0 236.9 251.1 237.6 251.1C238.3 251.2 238.9 251.2 239.6 251.2C240.3 251.3 240.9 251.3 241.6 251.4C242.3 251.4 242.9 251.4 243.6 251.4C244.3 251.4 244.9 251.4 245.6 251.4C246.3 251.4 246.9 251.4 247.6 251.4C248.3 251.4 248.9 251.4 249.6 251.4C250.3 251.4 250.9 251.4 251.6 251.4C252.3 251.3 252.9 251.3 253.6 251.3C254.3 251.3 254.9 251.3 255.6 251.2C256.3 251.2 256.9 251.2 257.6 251.2C258.3 251.1 258.9 251.1 259.6 251.1C260.3 251.1 260.9 251.0 261.6 251.0C262.3 251.0 262.9 251.0 263.6 250.9C264.3 250.9 264.9 250.9 265.6 250.8C266.3 250.8 266.9 250.8 267.6 250.8C268.3 250.8 268.9 250.7 269.6 250.7C270.3 250.7 270.9 250.7 271.6 250.7C272.3 250.7 272.9 250.7 273.6 250.7C274.3 250.8 274.9 250.8 275.6 250.8C276.3 250.9 276.9 250.9 277.6 250.9C278.3 251.0 278.9 251.0 279.6 251.1C280.3 251.2 280.9 251.2 281.6 251.3C282.3 251.4 282.9 251.5 283.6 251.6C284.3 251.7 284.9 251.8 285.6 251.9C286.3 252.0 286.9 252.2 287.6 252.3C288.3 252.5 288.9 252.6 289.6 252.7C290.3 252.9 290.9 253.0 291.6 253.1C292.3 253.2 292.9 253.3 293.6 253.4C294.3 253.5 294.9 253.6 295.6 253.7C296.3 253.7 296.9 253.8 297.6 253.8C298.3 253.9 298.9 253.9 299.6 253.9C300.3 254.0 300.9 254.0 301.6 254.0C302.3 254.0 302.9 254.0 303.6 254.0C304.3 254.0 304.9 254.0 305.6 254.0C306.3 254.0 306.9 254.0 307.6 254.0C308.3 254.0 308.9 254.0 309.6 253.9C310.3 253.9 310.9 253.9 311.6 253.9C312.3 253.9 312.9 253.8 313.6 253.8C314.3 253.8 314.9 253.8 315.6 253.7C316.3 253.7 316.9 253.7 317.6 253.7C318.3 253.7 318.9 253.7 319.6 253.8C320.3 253.8 320.9 253.8 321.6 253.9C322.3 253.9 322.9 254.0 323.6 254.1C324.3 254.2 324.9 254.3 325.6 254.4C326.3 254.5 326.9 254.7 327.6 254.8C328.3 255.0 328.9 255.2 329.6 255.4C330.3 255.6 330.9 255.9 331.6 256.1C332.3 256.4 332.9 256.7 333.6 257.0C334.3 257.3 334.9 257.6 335.6 257.9C336.3 258.2 336.9 258.5 337.6 258.8C338.3 259.1 338.9 259.4 339.6 259.8C340.3 260.1 340.9 260.4 341.6 260.7C342.3 261.0 342.9 261.3 343.6 261.7C344.3 262.0 344.9 262.3 345.6 262.6C346.3 262.9 346.9 263.2 347.6 263.5C348.3 263.7 348.9 264.0 349.6 264.3C350.3 264.6 350.9 264.8 351.6 265.1C352.3 265.3 352.9 265.6 353.6 265.8C354.3 266.0 354.9 266.3 355.6 266.5C356.3 266.7 356.9 267.0 357.6 267.2C358.3 267.4 358.9 267.6 359.6 267.8C360.3 268.0 360.9 268.2 361.6 268.4C362.3 268.6 362.9 268.8 363.6 269.0C364.3 269.2 364.9 269.4 365.6 269.6C366.3 269.8 366.9 270.0 367.6 270.1C368.3 270.3 368.9 270.5 369.6 270.7C370.3 270.9 370.9 271.0 371.6 271.2C372.3 271.4 372.9 271.6 373.6 271.8C374.3 271.9 374.9 272.1 375.6 272.3C376.3 272.4 376.9 272.6 377.6 272.8C378.3 272.9 378.9 273.1 379.6 273.2C380.3 273.4 380.9 273.5 381.6 273.7C382.3 273.8 382.9 274.0 383.6 274.2C384.3 274.3 384.9 274.5 385.6 274.7C386.3 274.8 386.9 275.0 387.6 275.2C388.3 275.4 388.9 275.6 389.6 275.8C390.3 276.0 390.9 276.3 391.6 276.5C392.3 276.8 392.9 277.0 393.6 277.3C394.3 277.6 394.9 277.9 395.6 278.2C396.3 278.5 396.9 278.9 397.6 279.3C398.3 279.6 398.9 280.0 399.6 280.5C400.3 280.9 400.9 281.3 401.6 281.8C402.3 282.2 402.9 282.7 403.6 283.1C404.3 283.6 404.9 284.1 405.6 284.6C406.3 285.1 406.9 285.5 407.6 286.0C408.3 286.5 408.9 287.0 409.6 287.5C410.3 288.0 410.9 288.5 411.6 289.0C412.3 289.5 412.9 290.0 413.6 290.5C414.3 291.0 414.9 291.5 415.6 292.1C416.3 292.6 416.9 293.1 417.6 293.7C418.3 294.2 418.9 294.8 419.6 295.3C420.3 295.9 420.9 296.5 421.6 297.0C422.3 297.5 422.9 298.1 423.6 298.6C424.3 299.1 424.9 299.6 425.6 300.1C426.3 300.6 426.9 301.0 427.6 301.5C428.3 302.0 428.9 302.4 429.6 302.8C430.3 303.3 430.9 303.7 431.6 304.0C432.3 304.4 432.9 304.8 433.6 305.2C434.3 305.5 434.9 305.9 435.6 306.2C436.3 306.6 436.9 306.9 437.6 307.2C438.3 307.5 438.9 307.9 439.6 308.2C440.3 308.5 440.9 308.8 441.6 309.1C442.3 309.4 442.9 309.7 443.6 310.0C444.3 310.3 444.9 310.6 445.6 311.0C446.3 311.3 446.9 311.6 447.6 311.9C448.3 312.2 448.9 312.5 449.6 312.8C450.3 313.2 450.9 313.5 451.6 313.8C452.3 314.1 452.9 314.5 453.6 314.8C454.3 315.1 454.9 315.5 455.6 315.8C456.3 316.1 456.9 316.4 457.6 316.7C458.3 317.1 458.9 317.4 459.6 317.7C460.3 318.0 460.9 318.3 461.6 318.6C462.3 318.9 462.9 319.2 463.6 319.5C464.3 319.7 464.9 320.0 465.6 320.3C466.3 320.5 466.9 320.8 467.6 321.0C468.3 321.3 468.9 321.5 469.6 321.7C470.3 321.9 470.9 322.1 471.6 322.3C472.3 322.5 472.9 322.7 473.6 322.8C474.3 323.0 474.9 323.1 475.6 323.2C476.3 323.3 476.9 323.4 477.6 323.4C478.3 323.4 478.9 323.4 479.6 323.4C480.3 323.4 480.9 323.3 481.6 323.2C482.3 323.1 482.9 322.9 483.6 322.8C484.3 322.6 484.9 322.4 485.6 322.2C486.3 322.0 486.9 321.7 487.6 321.4C488.3 321.2 488.9 320.9 489.6 320.5C490.3 320.2 490.9 319.9 491.6 319.5C492.3 319.1 492.9 318.6 493.6 318.2C494.3 317.7 494.9 317.2 495.6 316.7C496.3 316.2 496.9 315.7 497.6 315.1C498.3 314.5 498.9 314.0 499.6 313.4C500.3 312.8 500.9 312.2 501.6 311.5C502.3 310.9 502.9 310.3 503.6 309.6C504.3 309.0 504.9 308.4 505.6 307.7C506.3 307.1 506.9 306.5 507.6 305.9C508.3 305.3 508.9 304.7 509.6 304.1C510.3 303.6 510.9 303.0 511.6 302.5C512.3 301.9 512.9 301.4 513.6 300.9C514.3 300.5 514.9 300.0 515.6 299.5C516.3 299.1 516.9 298.7 517.6 298.2C518.3 297.8 518.9 297.4 519.6 297.0C520.3 296.6 520.9 296.2 521.6 295.9C522.3 295.5 522.9 295.1 523.6 294.7C524.3 294.3 524.9 293.9 525.6 293.5C526.3 293.1 526.9 292.8 527.6 292.4C528.3 292.0 528.9 291.6 529.6 291.2C530.3 290.8 530.9 290.4 531.6 289.9C532.3 289.5 532.9 289.1 533.6 288.7C534.3 288.3 534.9 287.9 535.6 287.5C536.3 287.1 536.9 286.7 537.6 286.3C538.3 285.9 538.9 285.6 539.6 285.2C540.3 284.8 540.9 284.5 541.6 284.2C542.3 283.8 542.9 283.5 543.6 283.2C544.3 282.8 544.9 282.5 545.6 282.2C546.3 281.9 546.9 281.6 547.6 281.4C548.3 281.1 548.9 280.8 549.6 280.5C550.3 280.3 550.9 280.0 551.6 279.8C552.3 279.6 552.9 279.3 553.6 279.1C554.3 278.9 554.9 278.7 555.6 278.5C556.3 278.3 556.9 278.1 557.6 277.9C558.3 277.7 558.9 277.6 559.6 277.4C560.3 277.2 560.9 277.1 561.6 276.9C562.3 276.8 562.9 276.6 563.6 276.5C564.3 276.3 564.9 276.2 565.6 276.1C566.3 275.9 566.9 275.8 567.6 275.7C568.3 275.6 568.9 275.5 569.6 275.3C570.3 275.2 570.9 275.1 571.6 275.0C572.3 274.9 572.9 274.8 573.6 274.6C574.3 274.5 574.9 274.4 575.6 274.3C576.3 274.2 576.9 274.0 577.6 273.9C578.3 273.8 578.9 273.7 579.6 273.6C580.3 273.5 580.9 273.3 581.6 273.2C582.3 273.1 582.9 273.0 583.6 272.9C584.3 272.7 584.9 272.6 585.6 272.5C586.3 272.4 586.9 272.3 587.6 272.1C588.3 272.0 588.9 271.9 589.6 271.8C590.3 271.7 590.9 271.6 591.6 271.4C592.3 271.3 592.9 271.2 593.6 271.1C594.3 270.9 594.9 270.8 595.6 270.6C596.3 270.5 596.9 270.3 597.6 270.1C598.3 269.9 598.9 269.7 599.6 269.4C600.3 269.2 600.9 268.9 601.6 268.6C602.3 268.3 602.9 268.0 603.6 267.6C604.3 267.3 604.9 267.0 605.6 266.6C606.3 266.3 606.9 265.9 607.6 265.6C608.3 265.3 608.9 265.0 609.6 264.6C610.3 264.3 610.9 264.0 611.6 263.7C612.3 263.4 612.9 263.2 613.6 262.9C614.3 262.6 614.9 262.4 615.6 262.1C616.3 261.9 616.9 261.6 617.6 261.4C618.3 261.2 618.9 260.9 619.6 260.7C620.3 260.5 620.9 260.3 621.6 260.0C622.3 259.8 622.9 259.6 623.6 259.4C624.3 259.1 624.9 258.9 625.6 258.7C626.3 258.4 626.9 258.2 627.6 258.0C628.3 257.7 628.9 257.5 629.6 257.2C630.3 257.0 630.9 256.7 631.6 256.5C632.3 256.3 632.9 256.0 633.6 255.8C634.3 255.6 634.9 255.3 635.6 255.1C636.3 254.9 636.9 254.7 637.6 254.5C638.3 254.3 638.9 254.1 639.6 253.9C640.3 253.7 640.9 253.5 641.6 253.3C642.3 253.1 642.9 252.9 643.6 252.7C644.3 252.5 644.9 252.3 645.6 252.2C646.3 252.0 646.9 251.8 647.6 251.6C648.3 251.4 648.9 251.2 649.6 251.0C650.3 250.8 650.9 250.6 651.6 250.3C652.3 250.1 652.9 249.9 653.6 249.6C654.3 249.3 654.9 249.0 655.6 248.7C656.3 248.4 656.9 248.1 657.6 247.8C658.3 247.5 658.9 247.2 659.6 246.8C660.3 246.5 660.9 246.2 661.6 245.9C662.3 245.6 662.9 245.2 663.6 244.9C664.3 244.6 664.9 244.3 665.6 244.0C666.3 243.7 666.9 243.5 667.6 243.2C668.3 242.9 668.9 242.6 669.6 242.3C670.3 242.1 670.9 241.8 671.6 241.5C672.3 241.3 672.9 241.0 673.6 240.8C674.3 240.5 674.9 240.3 675.6 240.0C676.3 239.8 676.9 239.6 677.6 239.3C678.3 239.1 678.9 238.9 679.6 238.7C680.3 238.5 680.9 238.3 681.6 238.1C682.3 237.9 682.9 237.8 683.6 237.6C684.3 237.5 684.9 237.3 685.6 237.2C686.3 237.1 686.9 237.0 687.6 236.8C688.3 236.7 688.9 236.6 689.6 236.5C690.3 236.4 690.9 236.3 691.6 236.1C692.3 236.0 692.9 235.9 693.6 235.8C694.3 235.6 694.9 235.5 695.6 235.3C696.3 235.2 696.9 235.0 697.6 234.8C698.3 234.6 698.9 234.4 699.6 234.2C700.3 233.9 700.9 233.7 701.6 233.4C702.3 233.1 702.9 232.8 703.6 232.5C704.3 232.2 704.9 231.9 705.6 231.6C706.3 231.2 706.9 230.9 707.6 230.5C708.3 230.2 708.9 229.8 709.6 229.4C710.3 229.0 710.9 228.6 711.6 228.2C712.3 227.9 712.9 227.4 713.6 227.0C714.3 226.6 714.9 226.2 715.6 225.8C716.3 225.4 716.9 225.0 717.6 224.5C718.3 224.1 718.9 223.7 719.6 223.3C720.3 222.9 720.9 222.5 721.6 222.1C722.3 221.7 722.9 221.3 723.6 220.9C724.3 220.5 724.9 220.1 725.6 219.6C726.3 219.2 726.9 218.8 727.6 218.4C728.3 218.0 728.9 217.5 729.6 217.1C730.3 216.7 730.9 216.2 731.6 215.8C732.3 215.4 732.9 215.0 733.6 214.6C734.3 214.2 734.9 213.8 735.6 213.5C736.3 213.1 736.9 212.8 737.6 212.5C738.3 212.2 738.9 212.0 739.6 211.7C740.3 211.5 740.9 211.3 741.6 211.1C742.3 210.9 742.9 210.7 743.6 210.5C744.3 210.3 744.9 210.1 745.6 210.0C746.3 209.8 746.9 209.6 747.6 209.5C748.3 209.3 748.9 209.2 749.6 209.0C750.3 208.9 750.9 208.7 751.6 208.6C752.3 208.4 752.9 208.3 753.6 208.1C754.3 208.0 754.9 207.8 755.6 207.7C756.3 207.5 756.9 207.4 757.6 207.2C758.3 207.0 758.9 206.8 759.6 206.7C760.3 206.5 760.9 206.3 761.6 206.0C762.3 205.8 762.9 205.6 763.6 205.3C764.3 205.1 764.9 204.8 765.6 204.5C766.3 204.2 766.9 203.9 767.6 203.6C768.3 203.3 768.9 202.9 769.6 202.6C770.3 202.2 770.9 201.8 771.6 201.5C772.3 201.1 772.9 200.7 773.6 200.3C774.3 199.9 774.9 199.5 775.6 199.1C776.3 198.8 776.9 198.4 777.6 198.0C778.3 197.6 778.9 197.2 779.6 196.8C780.3 196.4 780.9 196.1 781.6 195.7C782.3 195.3 782.9 194.9 783.6 194.6C784.3 194.2 784.9 193.9 785.6 193.5C786.3 193.2 786.9 192.8 787.6 192.5C788.3 192.2 788.9 191.9 789.6 191.6C790.3 191.2 790.9 190.9 791.6 190.7C792.3 190.4 792.9 190.1 793.6 189.8C794.3 189.5 794.9 189.3 795.6 189.0C796.3 188.8 796.9 188.5 797.6 188.2C798.3 188.0 798.9 187.7 799.6 187.4C800.3 187.1 800.9 186.9 801.6 186.6C802.3 186.3 802.9 186.0 803.6 185.7C804.3 185.4 804.9 185.1 805.6 184.8C806.3 184.6 806.9 184.3 807.6 184.0C808.3 183.7 808.9 183.4 809.6 183.1C810.3 182.8 810.9 182.5 811.6 182.2C812.3 181.9 812.9 181.6 813.6 181.2C814.3 180.9 814.9 180.6 815.6 180.3C816.3 180.0 816.9 179.7 817.6 179.4C818.3 179.1 818.9 178.7 819.6 178.4C820.3 178.1 820.9 177.7 821.6 177.3C822.3 177.0 822.9 176.6 823.6 176.2C824.3 175.8 824.9 175.3 825.6 174.9C826.3 174.4 826.9 173.9 827.6 173.4C828.3 172.8 828.9 172.2 829.6 171.6C830.3 171.0 830.9 170.4 831.6 169.7C832.3 169.0 832.9 168.3 833.6 167.6C834.3 166.9 834.9 166.2 835.6 165.5C836.3 164.8 836.9 164.1 837.6 163.4C838.3 162.7 838.9 161.9 839.6 161.2C840.3 160.6 840.9 159.9 841.6 159.2C842.3 158.5 842.9 157.9 843.6 157.2C844.3 156.6 844.9 156.0 845.6 155.4C846.3 154.8 846.9 154.2 847.6 153.6C848.3 153.1 848.9 152.5 849.6 152.0C850.3 151.4 850.9 150.8 851.6 150.3C852.3 149.7 852.9 149.2 853.6 148.6C854.3 148.1 854.9 147.5 855.6 147.0C856.3 146.4 856.9 145.8 857.6 145.2C858.3 144.7 858.9 144.1 859.6 143.5C860.3 142.9 860.9 142.3 861.6 141.7C862.3 141.1 862.9 140.5 863.6 139.9C864.3 139.3 864.9 138.7 865.6 138.2C866.3 137.6 866.9 137.0 867.6 136.5C868.3 135.9 868.9 135.4 869.6 134.8C870.3 134.3 870.9 133.7 871.6 133.2C872.3 132.6 872.9 132.0 873.6 131.5C874.3 130.9 874.9 130.4 875.6 129.8C876.3 129.2 876.9 128.6 877.6 128.0C878.3 127.4 878.9 126.8 879.6 126.1C880.3 125.5 880.9 124.9 881.6 124.2C882.3 123.5 882.9 122.9 883.6 122.2C884.3 121.5 884.9 120.8 885.6 120.0C886.3 119.3 886.9 118.6 887.6 117.8C888.3 117.1 888.9 116.3 889.6 115.6C890.3 114.8 890.9 114.0 891.6 113.3C892.3 112.5 892.9 111.8 893.6 111.1C894.3 110.3 894.9 109.6 895.6 108.9C896.3 108.1 896.9 107.4 897.6 106.7C898.3 105.9 898.9 105.2 899.6 104.4C900.3 103.7 900.9 102.9 901.6 102.2C902.3 101.4 902.9 100.7 903.6 99.9C904.3 99.2 904.9 98.4 905.6 97.7C906.3 97.0 906.9 96.3 907.6 95.7C908.3 95.0 908.9 94.4 909.6 93.8C910.3 93.2 910.9 92.7 911.6 92.2C912.3 91.7 912.9 91.2 913.6 90.7C914.3 90.2 914.9 89.8 915.6 89.4C916.3 89.0 916.9 88.6 917.6 88.3C918.3 88.0 918.9 87.6 919.6 87.3C920.3 87.0 920.9 86.8 921.6 86.5C922.3 86.3 922.9 86.0 923.6 85.8C924.3 85.6 924.9 85.4 925.6 85.2C926.3 85.0 926.9 84.8 927.6 84.6C928.3 84.5 928.9 84.3 929.6 84.2C930.3 84.0 930.9 83.9 931.6 83.7C932.3 83.6 932.9 83.4 933.6 83.3C934.3 83.2 934.9 83.1 935.6 83.0C936.3 82.9 936.9 82.7 937.6 82.7C938.3 82.6 938.9 82.5 939.6 82.4C940.3 82.3 940.9 82.2 941.6 82.1C942.3 82.1 943.0 82.0 943.6 81.9C944.2 81.9 944.9 81.8 945.2 81.7" fill="none" stroke="#e91e63" stroke-width="1.25" stroke-linejoin="round" stroke-linecap="round"/>
<path d="M1.85 268.5V276.0" stroke="#f23645" stroke-width="0.8" opacity="0.8"/>
<rect x="0.50" y="269.0" width="2.7" height="5.9" fill="#f23645"/>
<path d="M5.22 258.3V264.9" stroke="#089981" stroke-width="0.8" opacity="0.8"/>
<rect x="3.87" y="262.2" width="2.7" height="2.1" fill="#089981"/>
<path d="M8.59 259.7V264.6" stroke="#089981" stroke-width="0.8" opacity="0.8"/>
<rect x="7.24" y="261.2" width="2.7" height="2.0" fill="#089981"/>
<path d="M11.96 247.0V253.2" stroke="#089981" stroke-width="0.8" opacity="0.8"/>
<rect x="10.61" y="250.7" width="2.7" height="2.2" fill="#089981"/>
<path d="M15.33 253.9V258.8" stroke="#f23645" stroke-width="0.8" opacity="0.8"/>
<rect x="13.98" y="255.1" width="2.7" height="3.1" fill="#f23645"/>
<path d="M18.70 249.0V254.4" stroke="#f23645" stroke-width="0.8" opacity="0.8"/>
<rect x="17.35" y="249.7" width="2.7" height="3.2" fill="#f23645"/>
<path d="M22.06 246.6V251.4" stroke="#f23645" stroke-width="0.8" opacity="0.8"/>
<rect x="20.71" y="247.0" width="2.7" height="3.9" fill="#f23645"/>
<path d="M25.43 245.1V249.0" stroke="#f23645" stroke-width="0.8" opacity="0.8"/>
<rect x="24.08" y="245.9" width="2.7" height="0.8" fill="#f23645"/>
<path d="M28.80 236.3V243.1" stroke="#f23645" stroke-width="0.8" opacity="0.8"/>
<rect x="27.45" y="239.7" width="2.7" height="3.2" fill="#f23645"/>
<path d="M32.17 250.5V254.9" stroke="#f23645" stroke-width="0.8" opacity="0.8"/>
<rect x="30.82" y="250.7" width="2.7" height="3.5" fill="#f23645"/>
<path d="M35.54 251.4V258.1" stroke="#f23645" stroke-width="0.8" opacity="0.8"/>
<rect x="34.19" y="251.7" width="2.7" height="6.1" fill="#f23645"/>
<path d="M38.91 253.6V257.3" stroke="#f23645" stroke-width="0.8" opacity="0.8"/>
<rect x="37.56" y="253.9" width="2.7" height="3.2" fill="#f23645"/>
<path d="M42.28 255.8V259.7" stroke="#f23645" stroke-width="0.8" opacity="0.8"/>
<rect x="40.93" y="256.3" width="2.7" height="2.9" fill="#f23645"/>
<path d="M45.65 257.3V268.5" stroke="#f23645" stroke-width="0.8" opacity="0.8"/>
<rect x="44.30" y="257.8" width="2.7" height="8.8" fill="#f23645"/>
<path d="M49.02 264.1V271.5" stroke="#f23645" stroke-width="0.8" opacity="0.8"/>
<rect x="47.67" y="264.6" width="2.7" height="6.3" fill="#f23645"/>
<path d="M52.39 267.6V275.9" stroke="#089981" stroke-width="0.8" opacity="0.8"/>
<rect x="51.04" y="268.5" width="2.7" height="6.3" fill="#089981"/>
<path d="M55.75 271.5V276.8" stroke="#f23645" stroke-width="0.8" opacity="0.8"/>
<rect x="54.40" y="271.9" width="2.7" height="2.4" fill="#f23645"/>
<path d="M59.12 260.2V277.3" stroke="#089981" stroke-width="0.8" opacity="0.8"/>
<rect x="57.77" y="261.7" width="2.7" height="15.1" fill="#089981"/>
<path d="M62.49 256.8V265.1" stroke="#089981" stroke-width="0.8" opacity="0.8"/>
<rect x="61.14" y="257.0" width="2.7" height="7.6" fill="#089981"/>
<path d="M65.86 249.3V255.1" stroke="#089981" stroke-width="0.8" opacity="0.8"/>
<rect x="64.51" y="251.4" width="2.7" height="3.4" fill="#089981"/>
<path d="M69.23 252.2V257.8" stroke="#f23645" stroke-width="0.8" opacity="0.8"/>
<rect x="67.88" y="252.9" width="2.7" height="2.9" fill="#f23645"/>
<path d="M72.60 263.2V271.9" stroke="#f23645" stroke-width="0.8" opacity="0.8"/>
<rect x="71.25" y="263.9" width="2.7" height="7.0" fill="#f23645"/>
<path d="M75.97 262.2V268.5" stroke="#089981" stroke-width="0.8" opacity="0.8"/>
<rect x="74.62" y="263.6" width="2.7" height="4.4" fill="#089981"/>
<path d="M79.34 245.4V262.0" stroke="#089981" stroke-width="0.8" opacity="0.8"/>
<rect x="77.99" y="248.0" width="2.7" height="13.7" fill="#089981"/>
<path d="M82.71 242.2V255.3" stroke="#f23645" stroke-width="0.8" opacity="0.8"/>
<rect x="81.36" y="244.1" width="2.7" height="6.5" fill="#f23645"/>
<path d="M86.08 243.1V249.5" stroke="#f23645" stroke-width="0.8" opacity="0.8"/>
<rect x="84.73" y="243.6" width="2.7" height="5.4" fill="#f23645"/>
<path d="M89.44 246.6V250.3" stroke="#089981" stroke-width="0.8" opacity="0.8"/>
<rect x="88.09" y="247.5" width="2.7" height="2.1" fill="#089981"/>
<path d="M92.81 242.6V253.9" stroke="#f23645" stroke-width="0.8" opacity="0.8"/>
<rect x="91.46" y="245.8" width="2.7" height="5.7" fill="#f23645"/>
<path d="M96.18 250.9V261.7" stroke="#f23645" stroke-width="0.8" opacity="0.8"/>
<rect x="94.83" y="251.4" width="2.7" height="9.8" fill="#f23645"/>
<path d="M99.55 255.8V264.1" stroke="#f23645" stroke-width="0.8" opacity="0.8"/>
<rect x="98.20" y="256.3" width="2.7" height="7.3" fill="#f23645"/>
<path d="M102.92 254.4V262.2" stroke="#f23645" stroke-width="0.8" opacity="0.8"/>
<rect x="101.57" y="259.7" width="2.7" height="2.0" fill="#f23645"/>
<path d="M106.29 262.7V269.0" stroke="#f23645" stroke-width="0.8" opacity="0.8"/>
<rect x="104.94" y="267.1" width="2.7" height="1.5" fill="#f23645"/>
<path d="M109.66 264.1V268.0" stroke="#089981" stroke-width="0.8" opacity="0.8"/>
<rect x="108.31" y="264.6" width="2.7" height="1.5" fill="#089981"/>
<path d="M113.03 264.1V269.0" stroke="#f23645" stroke-width="0.8" opacity="0.8"/>
<rect x="111.68" y="265.1" width="2.7" height="2.0" fill="#f23645"/>
<path d="M116.40 266.6V272.4" stroke="#f23645" stroke-width="0.8" opacity="0.8"/>
<rect x="115.05" y="267.1" width="2.7" height="4.9" fill="#f23645"/>
<path d="M119.77 267.1V270.0" stroke="#089981" stroke-width="0.8" opacity="0.8"/>
<rect x="118.42" y="267.6" width="2.7" height="2.0" fill="#089981"/>
<path d="M123.13 254.9V262.2" stroke="#089981" stroke-width="0.8" opacity="0.8"/>
<rect x="121.78" y="259.1" width="2.7" height="2.6" fill="#089981"/>
<path d="M126.50 261.7V271.0" stroke="#f23645" stroke-width="0.8" opacity="0.8"/>
<rect x="125.15" y="262.2" width="2.7" height="3.4" fill="#f23645"/>
<path d="M129.87 266.1V271.9" stroke="#f23645" stroke-width="0.8" opacity="0.8"/>
<rect x="128.52" y="266.6" width="2.7" height="3.9" fill="#f23645"/>
<path d="M133.24 264.6V274.9" stroke="#089981" stroke-width="0.8" opacity="0.8"/>
<rect x="131.89" y="266.1" width="2.7" height="6.8" fill="#089981"/>
<path d="M136.61 267.1V271.9" stroke="#089981" stroke-width="0.8" opacity="0.8"/>
<rect x="135.26" y="267.6" width="2.7" height="1.5" fill="#089981"/>
<path d="M139.98 262.2V272.4" stroke="#089981" stroke-width="0.8" opacity="0.8"/>
<rect x="138.63" y="262.7" width="2.7" height="4.4" fill="#089981"/>
<path d="M143.35 249.0V260.7" stroke="#089981" stroke-width="0.8" opacity="0.8"/>
<rect x="142.00" y="251.9" width="2.7" height="8.3" fill="#089981"/>
<path d="M146.72 249.5V254.9" stroke="#f23645" stroke-width="0.8" opacity="0.8"/>
<rect x="145.37" y="250.3" width="2.7" height="2.1" fill="#f23645"/>
<path d="M150.09 245.8V251.0" stroke="#f23645" stroke-width="0.8" opacity="0.8"/>
<rect x="148.74" y="246.1" width="2.7" height="4.6" fill="#f23645"/>
<path d="M153.46 249.0V256.8" stroke="#f23645" stroke-width="0.8" opacity="0.8"/>
<rect x="152.11" y="249.7" width="2.7" height="4.5" fill="#f23645"/>
<path d="M156.82 250.9V256.8" stroke="#f23645" stroke-width="0.8" opacity="0.8"/>
<rect x="155.47" y="251.4" width="2.7" height="2.4" fill="#f23645"/>
<path d="M160.19 248.8V253.2" stroke="#f23645" stroke-width="0.8" opacity="0.8"/>
<rect x="158.84" y="250.0" width="2.7" height="1.5" fill="#f23645"/>
<path d="M163.56 250.0V254.6" stroke="#089981" stroke-width="0.8" opacity="0.8"/>
<rect x="162.21" y="251.4" width="2.7" height="1.5" fill="#089981"/>
<path d="M166.93 238.5V243.6" stroke="#f23645" stroke-width="0.8" opacity="0.8"/>
<rect x="165.58" y="242.0" width="2.7" height="1.5" fill="#f23645"/>
<path d="M170.30 244.1V252.2" stroke="#f23645" stroke-width="0.8" opacity="0.8"/>
<rect x="168.95" y="245.8" width="2.7" height="2.7" fill="#f23645"/>
<path d="M173.67 246.1V249.7" stroke="#f23645" stroke-width="0.8" opacity="0.8"/>
<rect x="172.32" y="247.0" width="2.7" height="2.0" fill="#f23645"/>
<path d="M177.04 243.6V251.2" stroke="#f23645" stroke-width="0.8" opacity="0.8"/>
<rect x="175.69" y="246.6" width="2.7" height="4.4" fill="#f23645"/>
<path d="M180.41 250.3V256.1" stroke="#f23645" stroke-width="0.8" opacity="0.8"/>
<rect x="179.06" y="253.2" width="2.7" height="2.6" fill="#f23645"/>
<path d="M183.78 257.3V266.1" stroke="#089981" stroke-width="0.8" opacity="0.8"/>
<rect x="182.43" y="259.1" width="2.7" height="5.9" fill="#089981"/>
<path d="M187.15 255.8V261.4" stroke="#f23645" stroke-width="0.8" opacity="0.8"/>
<rect x="185.80" y="256.5" width="2.7" height="4.5" fill="#f23645"/>
<path d="M190.51 252.8V257.7" stroke="#089981" stroke-width="0.8" opacity="0.8"/>
<rect x="189.16" y="253.1" width="2.7" height="2.9" fill="#089981"/>
<path d="M193.88 252.1V256.4" stroke="#f23645" stroke-width="0.8" opacity="0.8"/>
<rect x="192.53" y="252.8" width="2.7" height="3.2" fill="#f23645"/>
<path d="M197.25 252.8V255.3" stroke="#f23645" stroke-width="0.8" opacity="0.8"/>
<rect x="195.90" y="253.3" width="2.7" height="1.5" fill="#f23645"/>
<path d="M200.62 246.5V253.8" stroke="#089981" stroke-width="0.8" opacity="0.8"/>
<rect x="199.27" y="247.0" width="2.7" height="6.3" fill="#089981"/>
<path d="M203.99 234.0V246.0" stroke="#089981" stroke-width="0.8" opacity="0.8"/>
<rect x="202.64" y="235.5" width="2.7" height="10.2" fill="#089981"/>
<path d="M207.36 234.8V243.1" stroke="#f23645" stroke-width="0.8" opacity="0.8"/>
<rect x="206.01" y="235.3" width="2.7" height="7.5" fill="#f23645"/>
<path d="M210.73 240.4V252.1" stroke="#f23645" stroke-width="0.8" opacity="0.8"/>
<rect x="209.38" y="241.6" width="2.7" height="10.0" fill="#f23645"/>
<path d="M214.10 235.7V248.2" stroke="#089981" stroke-width="0.8" opacity="0.8"/>
<rect x="212.75" y="239.2" width="2.7" height="8.5" fill="#089981"/>
<path d="M217.47 238.5V245.0" stroke="#089981" stroke-width="0.8" opacity="0.8"/>
<rect x="216.12" y="240.6" width="2.7" height="2.4" fill="#089981"/>
<path d="M220.84 241.8V249.2" stroke="#f23645" stroke-width="0.8" opacity="0.8"/>
<rect x="219.49" y="242.1" width="2.7" height="4.9" fill="#f23645"/>
<path d="M224.20 247.3V254.1" stroke="#f23645" stroke-width="0.8" opacity="0.8"/>
<rect x="222.85" y="247.9" width="2.7" height="5.9" fill="#f23645"/>
<path d="M227.57 254.8V267.0" stroke="#f23645" stroke-width="0.8" opacity="0.8"/>
<rect x="226.22" y="255.5" width="2.7" height="9.1" fill="#f23645"/>
<path d="M230.94 259.7V267.0" stroke="#f23645" stroke-width="0.8" opacity="0.8"/>
<rect x="229.59" y="260.4" width="2.7" height="4.7" fill="#f23645"/>
<path d="M234.31 259.7V265.0" stroke="#f23645" stroke-width="0.8" opacity="0.8"/>
<rect x="232.96" y="260.4" width="2.7" height="3.2" fill="#f23645"/>
<path d="M237.68 263.6V270.9" stroke="#f23645" stroke-width="0.8" opacity="0.8"/>
<rect x="236.33" y="264.1" width="2.7" height="1.0" fill="#f23645"/>
<path d="M241.05 257.2V262.1" stroke="#089981" stroke-width="0.8" opacity="0.8"/>
<rect x="239.70" y="258.0" width="2.7" height="3.6" fill="#089981"/>
<path d="M244.42 251.9V259.7" stroke="#f23645" stroke-width="0.8" opacity="0.8"/>
<rect x="243.07" y="253.3" width="2.7" height="2.7" fill="#f23645"/>
<path d="M247.79 245.0V251.2" stroke="#089981" stroke-width="0.8" opacity="0.8"/>
<rect x="246.44" y="245.7" width="2.7" height="5.2" fill="#089981"/>
<path d="M251.16 239.6V245.5" stroke="#089981" stroke-width="0.8" opacity="0.8"/>
<rect x="249.81" y="240.6" width="2.7" height="3.4" fill="#089981"/>
<path d="M254.53 235.7V243.4" stroke="#f23645" stroke-width="0.8" opacity="0.8"/>
<rect x="253.18" y="239.2" width="2.7" height="3.2" fill="#f23645"/>
<path d="M257.89 236.2V247.9" stroke="#f23645" stroke-width="0.8" opacity="0.8"/>
<rect x="256.54" y="238.2" width="2.7" height="9.1" fill="#f23645"/>
<path d="M261.26 248.9V258.0" stroke="#f23645" stroke-width="0.8" opacity="0.8"/>
<rect x="259.91" y="249.6" width="2.7" height="6.4" fill="#f23645"/>
<path d="M264.63 248.9V254.1" stroke="#089981" stroke-width="0.8" opacity="0.8"/>
<rect x="263.28" y="249.4" width="2.7" height="2.9" fill="#089981"/>
<path d="M268.00 247.0V252.5" stroke="#089981" stroke-width="0.8" opacity="0.8"/>
<rect x="266.65" y="249.2" width="2.7" height="2.6" fill="#089981"/>
<path d="M271.37 245.0V251.2" stroke="#f23645" stroke-width="0.8" opacity="0.8"/>
<rect x="270.02" y="246.7" width="2.7" height="1.6" fill="#f23645"/>
<path d="M274.74 256.7V265.0" stroke="#f23645" stroke-width="0.8" opacity="0.8"/>
<rect x="273.39" y="257.2" width="2.7" height="6.3" fill="#f23645"/>
<path d="M278.11 254.3V262.6" stroke="#f23645" stroke-width="0.8" opacity="0.8"/>
<rect x="276.76" y="255.1" width="2.7" height="4.3" fill="#f23645"/>
<path d="M281.48 254.3V261.1" stroke="#f23645" stroke-width="0.8" opacity="0.8"/>
<rect x="280.13" y="256.2" width="2.7" height="2.9" fill="#f23645"/>
<path d="M284.85 253.1V256.2" stroke="#089981" stroke-width="0.8" opacity="0.8"/>
<rect x="283.50" y="254.3" width="2.7" height="1.5" fill="#089981"/>
<path d="M288.22 256.2V259.2" stroke="#f23645" stroke-width="0.8" opacity="0.8"/>
<rect x="286.87" y="256.7" width="2.7" height="2.0" fill="#f23645"/>
<path d="M291.58 258.2V262.6" stroke="#089981" stroke-width="0.8" opacity="0.8"/>
<rect x="290.23" y="259.0" width="2.7" height="2.0" fill="#089981"/>
<path d="M294.95 254.8V257.7" stroke="#f23645" stroke-width="0.8" opacity="0.8"/>
<rect x="293.60" y="255.1" width="2.7" height="2.0" fill="#f23645"/>
<path d="M298.32 247.0V254.1" stroke="#089981" stroke-width="0.8" opacity="0.8"/>
<rect x="296.97" y="248.4" width="2.7" height="4.9" fill="#089981"/>
<path d="M301.69 247.7V254.8" stroke="#f23645" stroke-width="0.8" opacity="0.8"/>
<rect x="300.34" y="248.9" width="2.7" height="5.4" fill="#f23645"/>
<path d="M305.06 253.8V256.2" stroke="#f23645" stroke-width="0.8" opacity="0.8"/>
<rect x="303.71" y="254.3" width="2.7" height="1.5" fill="#f23645"/>
<path d="M308.43 248.2V253.8" stroke="#089981" stroke-width="0.8" opacity="0.8"/>
<rect x="307.08" y="251.4" width="2.7" height="2.0" fill="#089981"/>
<path d="M311.80 252.3V255.3" stroke="#f23645" stroke-width="0.8" opacity="0.8"/>
<rect x="310.45" y="252.8" width="2.7" height="1.5" fill="#f23645"/>
<path d="M315.17 256.2V264.6" stroke="#f23645" stroke-width="0.8" opacity="0.8"/>
<rect x="313.82" y="256.7" width="2.7" height="5.4" fill="#f23645"/>
<path d="M318.54 258.5V264.6" stroke="#089981" stroke-width="0.8" opacity="0.8"/>
<rect x="317.19" y="259.2" width="2.7" height="4.9" fill="#089981"/>
<path d="M321.91 264.1V269.5" stroke="#f23645" stroke-width="0.8" opacity="0.8"/>
<rect x="320.56" y="266.0" width="2.7" height="2.9" fill="#f23645"/>
<path d="M325.27 268.7V276.1" stroke="#f23645" stroke-width="0.8" opacity="0.8"/>
<rect x="323.92" y="268.9" width="2.7" height="1.3" fill="#f23645"/>
<path d="M328.64 266.6V270.9" stroke="#089981" stroke-width="0.8" opacity="0.8"/>
<rect x="327.29" y="267.0" width="2.7" height="1.8" fill="#089981"/>
<path d="M332.01 273.1V290.0" stroke="#f23645" stroke-width="0.8" opacity="0.8"/>
<rect x="330.66" y="273.6" width="2.7" height="11.9" fill="#f23645"/>
<path d="M335.38 274.1V281.4" stroke="#089981" stroke-width="0.8" opacity="0.8"/>
<rect x="334.03" y="274.8" width="2.7" height="3.5" fill="#089981"/>
<path d="M338.75 278.0V290.0" stroke="#f23645" stroke-width="0.8" opacity="0.8"/>
<rect x="337.40" y="278.7" width="2.7" height="3.9" fill="#f23645"/>
<path d="M342.12 279.7V283.9" stroke="#089981" stroke-width="0.8" opacity="0.8"/>
<rect x="340.77" y="280.7" width="2.7" height="2.2" fill="#089981"/>
<path d="M345.49 273.4V278.0" stroke="#089981" stroke-width="0.8" opacity="0.8"/>
<rect x="344.14" y="275.8" width="2.7" height="1.8" fill="#089981"/>
<path d="M348.86 283.6V290.0" stroke="#f23645" stroke-width="0.8" opacity="0.8"/>
<rect x="347.51" y="283.9" width="2.7" height="5.6" fill="#f23645"/>
<path d="M352.23 285.3V292.0" stroke="#089981" stroke-width="0.8" opacity="0.8"/>
<rect x="350.88" y="286.5" width="2.7" height="2.0" fill="#089981"/>
<path d="M355.60 290.0V302.9" stroke="#089981" stroke-width="0.8" opacity="0.8"/>
<rect x="354.25" y="290.4" width="2.7" height="3.9" fill="#089981"/>
<path d="M358.96 288.8V292.4" stroke="#089981" stroke-width="0.8" opacity="0.8"/>
<rect x="357.61" y="289.7" width="2.7" height="2.0" fill="#089981"/>
<path d="M362.33 281.9V291.4" stroke="#f23645" stroke-width="0.8" opacity="0.8"/>
<rect x="360.98" y="285.8" width="2.7" height="5.4" fill="#f23645"/>
<path d="M365.70 284.9V293.9" stroke="#089981" stroke-width="0.8" opacity="0.8"/>
<rect x="364.35" y="286.3" width="2.7" height="7.3" fill="#089981"/>
<path d="M369.07 278.3V282.0" stroke="#f23645" stroke-width="0.8" opacity="0.8"/>
<rect x="367.72" y="280.0" width="2.7" height="1.7" fill="#f23645"/>
<path d="M372.44 271.9V274.4" stroke="#f23645" stroke-width="0.8" opacity="0.8"/>
<rect x="371.09" y="272.8" width="2.7" height="0.8" fill="#f23645"/>
<path d="M375.81 269.7V276.4" stroke="#f23645" stroke-width="0.8" opacity="0.8"/>
<rect x="374.46" y="273.8" width="2.7" height="2.2" fill="#f23645"/>
<path d="M379.18 271.9V278.0" stroke="#089981" stroke-width="0.8" opacity="0.8"/>
<rect x="377.83" y="273.6" width="2.7" height="3.9" fill="#089981"/>
<path d="M382.55 273.6V278.0" stroke="#f23645" stroke-width="0.8" opacity="0.8"/>
<rect x="381.20" y="274.1" width="2.7" height="3.4" fill="#f23645"/>
<path d="M385.92 269.5V275.6" stroke="#f23645" stroke-width="0.8" opacity="0.8"/>
<rect x="384.57" y="272.2" width="2.7" height="2.9" fill="#f23645"/>
<path d="M389.29 267.8V273.8" stroke="#f23645" stroke-width="0.8" opacity="0.8"/>
<rect x="387.94" y="269.9" width="2.7" height="2.2" fill="#f23645"/>
<path d="M392.65 273.6V278.7" stroke="#089981" stroke-width="0.8" opacity="0.8"/>
<rect x="391.30" y="274.1" width="2.7" height="2.9" fill="#089981"/>
<path d="M396.02 280.7V289.2" stroke="#f23645" stroke-width="0.8" opacity="0.8"/>
<rect x="394.67" y="281.2" width="2.7" height="4.6" fill="#f23645"/>
<path d="M399.39 295.9V310.0" stroke="#f23645" stroke-width="0.8" opacity="0.8"/>
<rect x="398.04" y="296.1" width="2.7" height="13.5" fill="#f23645"/>
<path d="M402.76 302.5V310.0" stroke="#f23645" stroke-width="0.8" opacity="0.8"/>
<rect x="401.41" y="302.9" width="2.7" height="6.6" fill="#f23645"/>
<path d="M406.13 306.1V312.0" stroke="#f23645" stroke-width="0.8" opacity="0.8"/>
<rect x="404.78" y="306.4" width="2.7" height="1.7" fill="#f23645"/>
<path d="M409.50 317.5V332.5" stroke="#f23645" stroke-width="0.8" opacity="0.8"/>
<rect x="408.15" y="317.8" width="2.7" height="5.2" fill="#f23645"/>
<path d="M412.87 328.6V345.5" stroke="#f23645" stroke-width="0.8" opacity="0.8"/>
<rect x="411.52" y="329.1" width="2.7" height="8.4" fill="#f23645"/>
<path d="M416.24 346.6V384.7" stroke="#f23645" stroke-width="0.8" opacity="0.8"/>
<rect x="414.89" y="347.2" width="2.7" height="31.7" fill="#f23645"/>
<path d="M419.61 345.3V370.3" stroke="#089981" stroke-width="0.8" opacity="0.8"/>
<rect x="418.26" y="349.2" width="2.7" height="20.8" fill="#089981"/>
<path d="M422.98 356.0V376.8" stroke="#f23645" stroke-width="0.8" opacity="0.8"/>
<rect x="421.62" y="356.5" width="2.7" height="13.5" fill="#f23645"/>
<path d="M426.34 323.7V360.9" stroke="#089981" stroke-width="0.8" opacity="0.8"/>
<rect x="424.99" y="324.4" width="2.7" height="36.0" fill="#089981"/>
<path d="M429.71 334.4V355.5" stroke="#f23645" stroke-width="0.8" opacity="0.8"/>
<rect x="428.36" y="334.9" width="2.7" height="5.5" fill="#f23645"/>
<path d="M433.08 329.1V335.9" stroke="#f23645" stroke-width="0.8" opacity="0.8"/>
<rect x="431.73" y="333.0" width="2.7" height="2.4" fill="#f23645"/>
<path d="M436.45 326.9V330.5" stroke="#f23645" stroke-width="0.8" opacity="0.8"/>
<rect x="435.10" y="328.6" width="2.7" height="1.5" fill="#f23645"/>
<path d="M439.82 329.6V338.8" stroke="#f23645" stroke-width="0.8" opacity="0.8"/>
<rect x="438.47" y="330.0" width="2.7" height="5.9" fill="#f23645"/>
<path d="M443.19 327.9V334.9" stroke="#089981" stroke-width="0.8" opacity="0.8"/>
<rect x="441.84" y="328.3" width="2.7" height="6.2" fill="#089981"/>
<path d="M446.56 321.7V329.6" stroke="#089981" stroke-width="0.8" opacity="0.8"/>
<rect x="445.21" y="322.2" width="2.7" height="6.8" fill="#089981"/>
<path d="M449.93 324.7V330.0" stroke="#f23645" stroke-width="0.8" opacity="0.8"/>
<rect x="448.58" y="325.2" width="2.7" height="4.4" fill="#f23645"/>
<path d="M453.30 329.1V333.2" stroke="#089981" stroke-width="0.8" opacity="0.8"/>
<rect x="451.95" y="330.8" width="2.7" height="2.0" fill="#089981"/>
<path d="M456.67 316.2V323.7" stroke="#089981" stroke-width="0.8" opacity="0.8"/>
<rect x="455.32" y="320.8" width="2.7" height="2.0" fill="#089981"/>
<path d="M460.03 313.9V318.8" stroke="#f23645" stroke-width="0.8" opacity="0.8"/>
<rect x="458.68" y="314.9" width="2.7" height="3.4" fill="#f23645"/>
<path d="M463.40 305.4V313.2" stroke="#089981" stroke-width="0.8" opacity="0.8"/>
<rect x="462.05" y="307.1" width="2.7" height="5.9" fill="#089981"/>
<path d="M466.77 301.7V306.4" stroke="#f23645" stroke-width="0.8" opacity="0.8"/>
<rect x="465.42" y="302.9" width="2.7" height="3.2" fill="#f23645"/>
<path d="M470.14 301.7V305.8" stroke="#089981" stroke-width="0.8" opacity="0.8"/>
<rect x="468.79" y="302.2" width="2.7" height="2.0" fill="#089981"/>
<path d="M473.51 294.1V301.9" stroke="#089981" stroke-width="0.8" opacity="0.8"/>
<rect x="472.16" y="295.7" width="2.7" height="4.9" fill="#089981"/>
<path d="M476.88 287.6V293.5" stroke="#089981" stroke-width="0.8" opacity="0.8"/>
<rect x="475.53" y="289.6" width="2.7" height="3.4" fill="#089981"/>
<path d="M480.25 288.1V291.5" stroke="#f23645" stroke-width="0.8" opacity="0.8"/>
<rect x="478.90" y="288.6" width="2.7" height="2.4" fill="#f23645"/>
<path d="M483.62 287.6V291.5" stroke="#089981" stroke-width="0.8" opacity="0.8"/>
<rect x="482.27" y="288.1" width="2.7" height="2.0" fill="#089981"/>
<path d="M486.99 278.3V283.7" stroke="#089981" stroke-width="0.8" opacity="0.8"/>
<rect x="485.64" y="279.1" width="2.7" height="4.1" fill="#089981"/>
<path d="M490.36 275.6V281.2" stroke="#f23645" stroke-width="0.8" opacity="0.8"/>
<rect x="489.01" y="276.2" width="2.7" height="1.7" fill="#f23645"/>
<path d="M493.72 264.2V269.5" stroke="#089981" stroke-width="0.8" opacity="0.8"/>
<rect x="492.37" y="267.8" width="2.7" height="1.3" fill="#089981"/>
<path d="M497.09 266.8V273.9" stroke="#f23645" stroke-width="0.8" opacity="0.8"/>
<rect x="495.74" y="267.8" width="2.7" height="2.7" fill="#f23645"/>
<path d="M500.46 274.4V277.8" stroke="#f23645" stroke-width="0.8" opacity="0.8"/>
<rect x="499.11" y="274.9" width="2.7" height="1.3" fill="#f23645"/>
<path d="M503.83 274.6V279.8" stroke="#089981" stroke-width="0.8" opacity="0.8"/>
<rect x="502.48" y="275.2" width="2.7" height="1.7" fill="#089981"/>
<path d="M507.20 277.5V280.5" stroke="#f23645" stroke-width="0.8" opacity="0.8"/>
<rect x="505.85" y="278.1" width="2.7" height="2.0" fill="#f23645"/>
<path d="M510.57 272.9V280.3" stroke="#f23645" stroke-width="0.8" opacity="0.8"/>
<rect x="509.22" y="276.4" width="2.7" height="3.4" fill="#f23645"/>
<path d="M513.94 278.8V283.4" stroke="#f23645" stroke-width="0.8" opacity="0.8"/>
<rect x="512.59" y="279.3" width="2.7" height="3.7" fill="#f23645"/>
<path d="M517.31 286.1V288.6" stroke="#089981" stroke-width="0.8" opacity="0.8"/>
<rect x="515.96" y="287.3" width="2.7" height="1.0" fill="#089981"/>
<path d="M520.68 282.7V285.9" stroke="#f23645" stroke-width="0.8" opacity="0.8"/>
<rect x="519.33" y="283.7" width="2.7" height="1.5" fill="#f23645"/>
<path d="M524.05 278.5V285.2" stroke="#089981" stroke-width="0.8" opacity="0.8"/>
<rect x="522.70" y="279.1" width="2.7" height="5.6" fill="#089981"/>
<path d="M527.41 275.2V280.3" stroke="#089981" stroke-width="0.8" opacity="0.8"/>
<rect x="526.06" y="275.6" width="2.7" height="4.2" fill="#089981"/>
<path d="M530.78 269.0V276.6" stroke="#f23645" stroke-width="0.8" opacity="0.8"/>
<rect x="529.43" y="270.0" width="2.7" height="6.2" fill="#f23645"/>
<path d="M534.15 264.5V271.5" stroke="#089981" stroke-width="0.8" opacity="0.8"/>
<rect x="532.80" y="264.8" width="2.7" height="6.2" fill="#089981"/>
<path d="M537.52 269.5V275.6" stroke="#089981" stroke-width="0.8" opacity="0.8"/>
<rect x="536.17" y="272.7" width="2.7" height="1.3" fill="#089981"/>
<path d="M540.89 276.6V280.8" stroke="#f23645" stroke-width="0.8" opacity="0.8"/>
<rect x="539.54" y="277.1" width="2.7" height="3.1" fill="#f23645"/>
<path d="M544.26 275.9V281.4" stroke="#f23645" stroke-width="0.8" opacity="0.8"/>
<rect x="542.91" y="277.8" width="2.7" height="2.9" fill="#f23645"/>
<path d="M547.63 273.4V277.3" stroke="#089981" stroke-width="0.8" opacity="0.8"/>
<rect x="546.28" y="275.6" width="2.7" height="1.3" fill="#089981"/>
<path d="M551.00 277.1V279.5" stroke="#f23645" stroke-width="0.8" opacity="0.8"/>
<rect x="549.65" y="277.5" width="2.7" height="1.6" fill="#f23645"/>
<path d="M554.37 275.2V277.8" stroke="#089981" stroke-width="0.8" opacity="0.8"/>
<rect x="553.02" y="275.6" width="2.7" height="1.8" fill="#089981"/>
<path d="M557.74 268.9V272.3" stroke="#089981" stroke-width="0.8" opacity="0.8"/>
<rect x="556.38" y="269.7" width="2.7" height="2.1" fill="#089981"/>
<path d="M561.10 264.0V269.9" stroke="#f23645" stroke-width="0.8" opacity="0.8"/>
<rect x="559.75" y="266.9" width="2.7" height="2.4" fill="#f23645"/>
<path d="M564.47 263.0V267.1" stroke="#f23645" stroke-width="0.8" opacity="0.8"/>
<rect x="563.12" y="264.8" width="2.7" height="1.0" fill="#f23645"/>
<path d="M567.84 265.5V269.4" stroke="#f23645" stroke-width="0.8" opacity="0.8"/>
<rect x="566.49" y="266.7" width="2.7" height="2.1" fill="#f23645"/>
<path d="M571.21 268.5V278.8" stroke="#f23645" stroke-width="0.8" opacity="0.8"/>
<rect x="569.86" y="269.3" width="2.7" height="6.8" fill="#f23645"/>
<path d="M574.58 266.4V271.3" stroke="#089981" stroke-width="0.8" opacity="0.8"/>
<rect x="573.23" y="267.1" width="2.7" height="3.7" fill="#089981"/>
<path d="M577.95 262.2V266.1" stroke="#089981" stroke-width="0.8" opacity="0.8"/>
<rect x="576.60" y="263.0" width="2.7" height="2.7" fill="#089981"/>
<path d="M581.32 257.4V265.5" stroke="#089981" stroke-width="0.8" opacity="0.8"/>
<rect x="579.97" y="257.9" width="2.7" height="7.0" fill="#089981"/>
<path d="M584.69 257.6V264.8" stroke="#f23645" stroke-width="0.8" opacity="0.8"/>
<rect x="583.34" y="258.1" width="2.7" height="6.1" fill="#f23645"/>
<path d="M588.06 262.0V266.1" stroke="#f23645" stroke-width="0.8" opacity="0.8"/>
<rect x="586.71" y="263.0" width="2.7" height="2.7" fill="#f23645"/>
<path d="M591.43 265.5V270.0" stroke="#089981" stroke-width="0.8" opacity="0.8"/>
<rect x="590.08" y="266.1" width="2.7" height="2.0" fill="#089981"/>
<path d="M594.79 256.0V261.3" stroke="#089981" stroke-width="0.8" opacity="0.8"/>
<rect x="593.44" y="258.9" width="2.7" height="1.4" fill="#089981"/>
<path d="M598.16 256.4V260.6" stroke="#089981" stroke-width="0.8" opacity="0.8"/>
<rect x="596.81" y="257.0" width="2.7" height="1.0" fill="#089981"/>
<path d="M601.53 246.4V256.0" stroke="#089981" stroke-width="0.8" opacity="0.8"/>
<rect x="600.18" y="246.9" width="2.7" height="8.5" fill="#089981"/>
<path d="M604.90 236.2V243.5" stroke="#089981" stroke-width="0.8" opacity="0.8"/>
<rect x="603.55" y="237.6" width="2.7" height="5.4" fill="#089981"/>
<path d="M608.27 226.7V235.5" stroke="#f23645" stroke-width="0.8" opacity="0.8"/>
<rect x="606.92" y="231.8" width="2.7" height="2.4" fill="#f23645"/>
<path d="M611.64 234.7V241.5" stroke="#f23645" stroke-width="0.8" opacity="0.8"/>
<rect x="610.29" y="235.2" width="2.7" height="5.9" fill="#f23645"/>
<path d="M615.01 243.3V248.9" stroke="#089981" stroke-width="0.8" opacity="0.8"/>
<rect x="613.66" y="244.3" width="2.7" height="2.6" fill="#089981"/>
<path d="M618.38 242.3V245.9" stroke="#f23645" stroke-width="0.8" opacity="0.8"/>
<rect x="617.03" y="243.3" width="2.7" height="1.4" fill="#f23645"/>
<path d="M621.75 240.1V245.9" stroke="#f23645" stroke-width="0.8" opacity="0.8"/>
<rect x="620.40" y="241.5" width="2.7" height="2.4" fill="#f23645"/>
<path d="M625.12 244.5V247.9" stroke="#f23645" stroke-width="0.8" opacity="0.8"/>
<rect x="623.76" y="244.9" width="2.7" height="2.4" fill="#f23645"/>
<path d="M628.48 243.3V248.6" stroke="#089981" stroke-width="0.8" opacity="0.8"/>
<rect x="627.13" y="245.2" width="2.7" height="2.9" fill="#089981"/>
<path d="M631.85 240.8V247.2" stroke="#f23645" stroke-width="0.8" opacity="0.8"/>
<rect x="630.50" y="241.3" width="2.7" height="2.9" fill="#f23645"/>
<path d="M635.22 244.0V247.6" stroke="#f23645" stroke-width="0.8" opacity="0.8"/>
<rect x="633.87" y="244.7" width="2.7" height="2.0" fill="#f23645"/>
<path d="M638.59 240.8V248.4" stroke="#f23645" stroke-width="0.8" opacity="0.8"/>
<rect x="637.24" y="242.0" width="2.7" height="5.9" fill="#f23645"/>
<path d="M641.96 247.6V251.8" stroke="#089981" stroke-width="0.8" opacity="0.8"/>
<rect x="640.61" y="248.6" width="2.7" height="1.8" fill="#089981"/>
<path d="M645.33 245.9V249.8" stroke="#089981" stroke-width="0.8" opacity="0.8"/>
<rect x="643.98" y="246.4" width="2.7" height="2.0" fill="#089981"/>
<path d="M648.70 241.5V247.6" stroke="#f23645" stroke-width="0.8" opacity="0.8"/>
<rect x="647.35" y="244.3" width="2.7" height="2.6" fill="#f23645"/>
<path d="M652.07 241.5V249.0" stroke="#089981" stroke-width="0.8" opacity="0.8"/>
<rect x="650.72" y="242.3" width="2.7" height="6.0" fill="#089981"/>
<path d="M655.44 238.6V244.3" stroke="#f23645" stroke-width="0.8" opacity="0.8"/>
<rect x="654.09" y="239.5" width="2.7" height="4.3" fill="#f23645"/>
<path d="M658.81 235.8V245.1" stroke="#f23645" stroke-width="0.8" opacity="0.8"/>
<rect x="657.46" y="242.6" width="2.7" height="1.7" fill="#f23645"/>
<path d="M662.17 219.5V240.5" stroke="#089981" stroke-width="0.8" opacity="0.8"/>
<rect x="660.82" y="222.0" width="2.7" height="17.8" fill="#089981"/>
<path d="M665.54 208.2V216.3" stroke="#089981" stroke-width="0.8" opacity="0.8"/>
<rect x="664.19" y="212.0" width="2.7" height="3.3" fill="#089981"/>
<path d="M668.91 212.4V219.1" stroke="#f23645" stroke-width="0.8" opacity="0.8"/>
<rect x="667.56" y="213.0" width="2.7" height="5.4" fill="#f23645"/>
<path d="M672.28 216.3V225.2" stroke="#f23645" stroke-width="0.8" opacity="0.8"/>
<rect x="670.93" y="217.0" width="2.7" height="7.1" fill="#f23645"/>
<path d="M675.65 228.4V230.9" stroke="#f23645" stroke-width="0.8" opacity="0.8"/>
<rect x="674.30" y="229.1" width="2.7" height="1.0" fill="#f23645"/>
<path d="M679.02 228.6V231.2" stroke="#f23645" stroke-width="0.8" opacity="0.8"/>
<rect x="677.67" y="229.1" width="2.7" height="1.4" fill="#f23645"/>
<path d="M682.39 222.4V230.5" stroke="#089981" stroke-width="0.8" opacity="0.8"/>
<rect x="681.04" y="224.1" width="2.7" height="5.7" fill="#089981"/>
<path d="M685.76 223.4V231.5" stroke="#f23645" stroke-width="0.8" opacity="0.8"/>
<rect x="684.41" y="224.1" width="2.7" height="4.3" fill="#f23645"/>
<path d="M689.13 235.2V242.6" stroke="#089981" stroke-width="0.8" opacity="0.8"/>
<rect x="687.78" y="235.9" width="2.7" height="3.6" fill="#089981"/>
<path d="M692.50 230.5V234.1" stroke="#089981" stroke-width="0.8" opacity="0.8"/>
<rect x="691.15" y="231.5" width="2.7" height="1.4" fill="#089981"/>
<path d="M695.86 226.9V234.8" stroke="#089981" stroke-width="0.8" opacity="0.8"/>
<rect x="694.51" y="229.1" width="2.7" height="5.0" fill="#089981"/>
<path d="M699.23 222.4V229.8" stroke="#089981" stroke-width="0.8" opacity="0.8"/>
<rect x="697.88" y="223.8" width="2.7" height="5.3" fill="#089981"/>
<path d="M702.60 209.2V221.3" stroke="#089981" stroke-width="0.8" opacity="0.8"/>
<rect x="701.25" y="211.6" width="2.7" height="9.0" fill="#089981"/>
<path d="M705.97 193.9V208.4" stroke="#089981" stroke-width="0.8" opacity="0.8"/>
<rect x="704.62" y="197.8" width="2.7" height="10.0" fill="#089981"/>
<path d="M709.34 186.0V193.5" stroke="#089981" stroke-width="0.8" opacity="0.8"/>
<rect x="707.99" y="189.2" width="2.7" height="3.3" fill="#089981"/>
<path d="M712.71 190.7V199.9" stroke="#f23645" stroke-width="0.8" opacity="0.8"/>
<rect x="711.36" y="191.4" width="2.7" height="7.8" fill="#f23645"/>
<path d="M716.08 186.8V197.1" stroke="#089981" stroke-width="0.8" opacity="0.8"/>
<rect x="714.73" y="187.4" width="2.7" height="9.0" fill="#089981"/>
<path d="M719.45 180.7V187.4" stroke="#089981" stroke-width="0.8" opacity="0.8"/>
<rect x="718.10" y="182.1" width="2.7" height="4.7" fill="#089981"/>
<path d="M722.82 179.7V187.1" stroke="#f23645" stroke-width="0.8" opacity="0.8"/>
<rect x="721.47" y="180.3" width="2.7" height="6.1" fill="#f23645"/>
<path d="M726.19 186.8V197.8" stroke="#f23645" stroke-width="0.8" opacity="0.8"/>
<rect x="724.84" y="187.4" width="2.7" height="8.5" fill="#f23645"/>
<path d="M729.55 194.9V201.1" stroke="#f23645" stroke-width="0.8" opacity="0.8"/>
<rect x="728.20" y="196.8" width="2.7" height="3.4" fill="#f23645"/>
<path d="M732.92 197.8V203.5" stroke="#089981" stroke-width="0.8" opacity="0.8"/>
<rect x="731.57" y="198.5" width="2.7" height="1.4" fill="#089981"/>
<path d="M736.29 190.2V198.5" stroke="#f23645" stroke-width="0.8" opacity="0.8"/>
<rect x="734.94" y="193.5" width="2.7" height="4.3" fill="#f23645"/>
<path d="M739.66 198.7V207.1" stroke="#f23645" stroke-width="0.8" opacity="0.8"/>
<rect x="738.31" y="199.5" width="2.7" height="4.6" fill="#f23645"/>
<path d="M743.03 197.9V204.8" stroke="#089981" stroke-width="0.8" opacity="0.8"/>
<rect x="741.68" y="201.0" width="2.7" height="1.5" fill="#089981"/>
<path d="M746.40 195.2V204.8" stroke="#089981" stroke-width="0.8" opacity="0.8"/>
<rect x="745.05" y="196.1" width="2.7" height="3.4" fill="#089981"/>
<path d="M749.77 196.4V199.5" stroke="#f23645" stroke-width="0.8" opacity="0.8"/>
<rect x="748.42" y="197.2" width="2.7" height="1.5" fill="#f23645"/>
<path d="M753.14 202.5V211.6" stroke="#f23645" stroke-width="0.8" opacity="0.8"/>
<rect x="751.79" y="203.3" width="2.7" height="3.5" fill="#f23645"/>
<path d="M756.51 202.2V207.8" stroke="#089981" stroke-width="0.8" opacity="0.8"/>
<rect x="755.16" y="204.0" width="2.7" height="2.3" fill="#089981"/>
<path d="M759.88 207.1V211.3" stroke="#f23645" stroke-width="0.8" opacity="0.8"/>
<rect x="758.53" y="207.8" width="2.7" height="2.6" fill="#f23645"/>
<path d="M763.24 199.5V208.6" stroke="#089981" stroke-width="0.8" opacity="0.8"/>
<rect x="761.89" y="200.2" width="2.7" height="7.6" fill="#089981"/>
<path d="M766.61 190.0V197.2" stroke="#089981" stroke-width="0.8" opacity="0.8"/>
<rect x="765.26" y="192.6" width="2.7" height="1.5" fill="#089981"/>
<path d="M769.98 180.4V187.6" stroke="#089981" stroke-width="0.8" opacity="0.8"/>
<rect x="768.63" y="183.9" width="2.7" height="3.0" fill="#089981"/>
<path d="M773.35 175.4V187.6" stroke="#f23645" stroke-width="0.8" opacity="0.8"/>
<rect x="772.00" y="179.9" width="2.7" height="7.0" fill="#f23645"/>
<path d="M776.72 179.6V186.0" stroke="#089981" stroke-width="0.8" opacity="0.8"/>
<rect x="775.37" y="180.4" width="2.7" height="5.0" fill="#089981"/>
<path d="M780.09 171.7V180.9" stroke="#089981" stroke-width="0.8" opacity="0.8"/>
<rect x="778.74" y="172.3" width="2.7" height="7.6" fill="#089981"/>
<path d="M783.46 164.1V170.2" stroke="#f23645" stroke-width="0.8" opacity="0.8"/>
<rect x="782.11" y="165.2" width="2.7" height="2.0" fill="#f23645"/>
<path d="M786.83 162.1V168.7" stroke="#f23645" stroke-width="0.8" opacity="0.8"/>
<rect x="785.48" y="162.9" width="2.7" height="2.3" fill="#f23645"/>
<path d="M790.20 162.6V167.7" stroke="#089981" stroke-width="0.8" opacity="0.8"/>
<rect x="788.85" y="165.2" width="2.7" height="1.5" fill="#089981"/>
<path d="M793.57 154.5V164.4" stroke="#089981" stroke-width="0.8" opacity="0.8"/>
<rect x="792.22" y="158.0" width="2.7" height="5.6" fill="#089981"/>
<path d="M796.93 148.8V170.2" stroke="#f23645" stroke-width="0.8" opacity="0.8"/>
<rect x="795.58" y="153.0" width="2.7" height="9.6" fill="#f23645"/>
<path d="M800.30 150.4V161.3" stroke="#089981" stroke-width="0.8" opacity="0.8"/>
<rect x="798.95" y="154.0" width="2.7" height="6.6" fill="#089981"/>
<path d="M803.67 151.9V156.5" stroke="#089981" stroke-width="0.8" opacity="0.8"/>
<rect x="802.32" y="153.0" width="2.7" height="2.3" fill="#089981"/>
<path d="M807.04 149.5V154.5" stroke="#089981" stroke-width="0.8" opacity="0.8"/>
<rect x="805.69" y="150.4" width="2.7" height="3.0" fill="#089981"/>
<path d="M810.41 150.7V157.1" stroke="#f23645" stroke-width="0.8" opacity="0.8"/>
<rect x="809.06" y="153.0" width="2.7" height="3.5" fill="#f23645"/>
<path d="M813.78 160.1V164.1" stroke="#f23645" stroke-width="0.8" opacity="0.8"/>
<rect x="812.43" y="160.6" width="2.7" height="1.5" fill="#f23645"/>
<path d="M817.15 161.3V167.1" stroke="#f23645" stroke-width="0.8" opacity="0.8"/>
<rect x="815.80" y="162.1" width="2.7" height="2.0" fill="#f23645"/>
<path d="M820.52 164.1V172.3" stroke="#f23645" stroke-width="0.8" opacity="0.8"/>
<rect x="819.17" y="165.2" width="2.7" height="4.9" fill="#f23645"/>
<path d="M823.89 161.9V167.6" stroke="#089981" stroke-width="0.8" opacity="0.8"/>
<rect x="822.54" y="163.0" width="2.7" height="3.8" fill="#089981"/>
<path d="M827.26 149.8V162.5" stroke="#089981" stroke-width="0.8" opacity="0.8"/>
<rect x="825.91" y="150.4" width="2.7" height="11.5" fill="#089981"/>
<path d="M830.62 113.3V138.5" stroke="#089981" stroke-width="0.8" opacity="0.8"/>
<rect x="829.27" y="116.0" width="2.7" height="22.0" fill="#089981"/>
<path d="M833.99 107.0V117.1" stroke="#f23645" stroke-width="0.8" opacity="0.8"/>
<rect x="832.64" y="111.1" width="2.7" height="5.5" fill="#f23645"/>
<path d="M837.36 113.0V120.4" stroke="#f23645" stroke-width="0.8" opacity="0.8"/>
<rect x="836.01" y="116.9" width="2.7" height="3.0" fill="#f23645"/>
<path d="M840.73 105.9V116.2" stroke="#089981" stroke-width="0.8" opacity="0.8"/>
<rect x="839.38" y="106.7" width="2.7" height="9.1" fill="#089981"/>
<path d="M844.10 107.5V115.5" stroke="#f23645" stroke-width="0.8" opacity="0.8"/>
<rect x="842.75" y="108.1" width="2.7" height="6.8" fill="#f23645"/>
<path d="M847.47 119.1V138.3" stroke="#f23645" stroke-width="0.8" opacity="0.8"/>
<rect x="846.12" y="124.0" width="2.7" height="9.9" fill="#f23645"/>
<path d="M850.84 120.2V132.5" stroke="#089981" stroke-width="0.8" opacity="0.8"/>
<rect x="849.49" y="120.7" width="2.7" height="11.3" fill="#089981"/>
<path d="M854.21 110.5V115.5" stroke="#089981" stroke-width="0.8" opacity="0.8"/>
<rect x="852.86" y="111.1" width="2.7" height="3.6" fill="#089981"/>
<path d="M857.58 113.3V123.9" stroke="#f23645" stroke-width="0.8" opacity="0.8"/>
<rect x="856.23" y="119.9" width="2.7" height="3.6" fill="#f23645"/>
<path d="M860.95 96.5V111.6" stroke="#089981" stroke-width="0.8" opacity="0.8"/>
<rect x="859.60" y="97.1" width="2.7" height="13.9" fill="#089981"/>
<path d="M864.31 85.3V97.9" stroke="#f23645" stroke-width="0.8" opacity="0.8"/>
<rect x="862.96" y="89.1" width="2.7" height="6.6" fill="#f23645"/>
<path d="M867.68 92.4V103.4" stroke="#089981" stroke-width="0.8" opacity="0.8"/>
<rect x="866.33" y="95.2" width="2.7" height="1.6" fill="#089981"/>
<path d="M871.05 102.3V109.4" stroke="#f23645" stroke-width="0.8" opacity="0.8"/>
<rect x="869.70" y="103.1" width="2.7" height="2.9" fill="#f23645"/>
<path d="M874.42 93.0V100.1" stroke="#089981" stroke-width="0.8" opacity="0.8"/>
<rect x="873.07" y="95.0" width="2.7" height="4.6" fill="#089981"/>
<path d="M877.79 75.6V87.4" stroke="#089981" stroke-width="0.8" opacity="0.8"/>
<rect x="876.44" y="76.0" width="2.7" height="10.7" fill="#089981"/>
<path d="M881.16 78.0V82.5" stroke="#f23645" stroke-width="0.8" opacity="0.8"/>
<rect x="879.81" y="78.9" width="2.7" height="2.8" fill="#f23645"/>
<path d="M884.53 61.8V78.9" stroke="#089981" stroke-width="0.8" opacity="0.8"/>
<rect x="883.18" y="63.9" width="2.7" height="14.1" fill="#089981"/>
<path d="M887.90 58.1V69.1" stroke="#089981" stroke-width="0.8" opacity="0.8"/>
<rect x="886.55" y="63.9" width="2.7" height="3.2" fill="#089981"/>
<path d="M891.27 45.9V60.2" stroke="#089981" stroke-width="0.8" opacity="0.8"/>
<rect x="889.92" y="46.5" width="2.7" height="13.2" fill="#089981"/>
<path d="M894.64 42.9V62.4" stroke="#f23645" stroke-width="0.8" opacity="0.8"/>
<rect x="893.29" y="48.7" width="2.7" height="13.0" fill="#f23645"/>
<path d="M898.00 63.0V99.0" stroke="#f23645" stroke-width="0.8" opacity="0.8"/>
<rect x="896.65" y="63.6" width="2.7" height="17.7" fill="#f23645"/>
<path d="M901.37 65.8V75.2" stroke="#089981" stroke-width="0.8" opacity="0.8"/>
<rect x="900.02" y="70.7" width="2.7" height="1.7" fill="#089981"/>
<path d="M904.74 73.6V89.8" stroke="#f23645" stroke-width="0.8" opacity="0.8"/>
<rect x="903.39" y="76.0" width="2.7" height="4.9" fill="#f23645"/>
<path d="M908.11 69.5V78.0" stroke="#089981" stroke-width="0.8" opacity="0.8"/>
<rect x="906.76" y="70.7" width="2.7" height="3.7" fill="#089981"/>
<path d="M911.48 60.6V72.8" stroke="#f23645" stroke-width="0.8" opacity="0.8"/>
<rect x="910.13" y="63.9" width="2.7" height="8.3" fill="#f23645"/>
<path d="M914.85 67.3V75.8" stroke="#089981" stroke-width="0.8" opacity="0.8"/>
<rect x="913.50" y="67.9" width="2.7" height="2.1" fill="#089981"/>
<path d="M918.22 63.0V69.7" stroke="#089981" stroke-width="0.8" opacity="0.8"/>
<rect x="916.87" y="63.9" width="2.7" height="5.2" fill="#089981"/>
<path d="M921.59 71.9V80.4" stroke="#f23645" stroke-width="0.8" opacity="0.8"/>
<rect x="920.24" y="72.4" width="2.7" height="6.8" fill="#f23645"/>
<path d="M924.96 78.2V86.8" stroke="#089981" stroke-width="0.8" opacity="0.8"/>
<rect x="923.61" y="78.9" width="2.7" height="1.8" fill="#089981"/>
<path d="M928.33 86.6V105.1" stroke="#f23645" stroke-width="0.8" opacity="0.8"/>
<rect x="926.98" y="87.4" width="2.7" height="17.3" fill="#f23645"/>
<path d="M931.69 98.8V112.0" stroke="#f23645" stroke-width="0.8" opacity="0.8"/>
<rect x="930.34" y="103.2" width="2.7" height="5.1" fill="#f23645"/>
<path d="M935.06 75.1V99.1" stroke="#089981" stroke-width="0.8" opacity="0.8"/>
<rect x="933.71" y="87.1" width="2.7" height="11.7" fill="#089981"/>
<path d="M938.43 92.9V108.0" stroke="#f23645" stroke-width="0.8" opacity="0.8"/>
<rect x="937.08" y="96.1" width="2.7" height="9.8" fill="#f23645"/>
<path d="M941.80 97.3V107.9" stroke="#f23645" stroke-width="0.8" opacity="0.8"/>
<rect x="940.45" y="98.3" width="2.7" height="7.8" fill="#f23645"/>
<path d="M945.17 88.0V100.7" stroke="#089981" stroke-width="0.8" opacity="0.8"/>
<rect x="943.82" y="91.7" width="2.7" height="8.6" fill="#089981"/>
<path d="M1.5 261.7C2.0 261.9 3.7 262.3 4.9 263.2C6.1 264.0 7.5 266.7 8.6 266.6C9.7 266.4 10.7 263.1 11.7 262.2C12.7 261.3 13.5 262.2 14.6 261.2C15.8 260.2 17.0 258.0 18.8 256.3C20.5 254.6 23.7 252.2 25.4 250.9C27.1 249.7 27.8 249.1 28.9 248.7C30.0 248.3 31.1 248.2 32.2 248.3C33.3 248.4 34.5 248.9 35.6 249.3C36.8 249.7 37.9 250.1 39.1 250.7C40.2 251.3 41.3 251.8 42.4 252.9C43.5 254.0 44.6 255.8 45.7 257.3C46.8 258.8 48.0 260.5 49.1 261.7C50.2 262.9 51.3 263.6 52.4 264.6C53.6 265.6 54.7 267.0 55.9 267.6C57.0 268.1 58.1 268.2 59.2 267.8C60.3 267.5 61.5 266.5 62.6 265.6C63.7 264.7 64.8 263.2 65.9 262.2C67.0 261.2 68.2 260.1 69.3 259.7C70.5 259.3 71.5 259.7 72.7 259.7C73.8 259.7 74.9 260.1 76.1 259.7C77.2 259.4 78.4 258.3 79.5 257.8C80.6 257.3 81.7 257.3 82.8 256.8C83.9 256.3 85.1 255.8 86.2 254.9C87.4 254.0 88.4 252.4 89.6 251.4C90.7 250.5 91.8 248.9 92.9 249.0C94.0 249.1 95.0 251.1 96.2 252.2C97.3 253.4 98.4 254.7 99.6 255.8C100.7 256.9 101.8 257.7 102.9 258.8C104.0 259.9 105.2 261.3 106.3 262.4C107.4 263.4 108.5 264.4 109.6 264.9C110.8 265.5 111.9 265.3 113.0 265.6C114.2 265.9 115.2 266.5 116.4 266.9C117.5 267.2 118.7 267.8 119.8 267.6C120.9 267.3 122.0 266.0 123.1 265.6C124.2 265.2 125.4 265.0 126.5 265.1C127.6 265.2 128.7 266.1 129.8 266.1C131.0 266.1 132.1 265.1 133.3 265.1C134.4 265.1 135.5 266.0 136.6 266.3C137.7 266.5 138.9 267.1 140.0 266.6C141.1 266.1 142.2 264.4 143.3 263.2C144.4 261.9 145.6 260.5 146.7 259.2C147.9 258.0 148.9 256.8 150.1 255.8C151.2 254.9 152.4 254.2 153.5 253.6C154.6 252.9 155.7 252.3 156.8 251.9C157.9 251.6 159.1 251.6 160.2 251.4C161.3 251.3 162.4 251.2 163.5 250.9C164.7 250.7 165.8 250.1 167.0 249.7C168.1 249.3 169.2 249.0 170.3 248.7C171.4 248.4 172.6 248.1 173.7 248.0C174.8 247.9 175.9 247.9 177.0 248.2C178.1 248.5 179.3 249.0 180.4 249.7C181.6 250.4 182.7 251.5 183.8 252.4C184.9 253.3 186.0 254.3 187.1 254.9C188.3 255.6 189.4 255.9 190.5 256.2C191.7 256.6 192.7 256.7 193.9 256.7C195.0 256.8 196.2 257.0 197.3 256.4C198.4 255.9 199.5 254.5 200.6 253.3C201.7 252.1 202.9 250.3 204.0 249.2C205.1 248.1 206.2 247.4 207.3 246.7C208.5 246.0 209.6 245.7 210.8 245.0C211.9 244.3 213.0 243.1 214.1 242.6C215.2 242.0 216.4 241.6 217.5 241.8C218.6 242.0 219.7 243.2 220.8 244.0C221.9 244.9 223.1 245.8 224.2 246.7C225.4 247.6 226.4 248.3 227.6 249.6C228.7 250.9 229.9 252.8 231.0 254.3C232.1 255.8 233.2 257.4 234.3 258.7C235.4 260.0 236.6 261.3 237.7 261.9C238.8 262.6 239.9 262.7 241.0 262.6C242.2 262.5 243.3 262.2 244.5 261.1C245.6 260.1 246.7 258.0 247.8 256.2C248.9 254.5 250.1 252.4 251.2 250.9C252.3 249.4 253.4 248.1 254.5 247.3C255.6 246.4 256.8 245.9 257.9 245.7C259.1 245.5 260.1 245.6 261.2 245.8C262.4 246.0 263.5 246.3 264.7 246.7C265.8 247.1 266.9 247.7 268.0 248.2C269.1 248.8 270.3 249.5 271.4 250.2C272.5 250.9 273.6 252.0 274.7 252.6C275.8 253.2 277.0 253.4 278.1 253.8C279.2 254.3 280.3 254.7 281.4 255.3C282.5 255.8 283.7 256.6 284.8 257.2C286.0 257.8 287.0 258.7 288.2 259.0C289.3 259.2 290.5 259.0 291.6 258.7C292.7 258.4 293.8 257.5 294.9 257.0C296.0 256.6 297.2 256.4 298.3 256.1C299.4 255.7 300.5 255.2 301.6 254.8C302.8 254.4 303.9 253.9 305.1 253.5C306.2 253.1 307.3 252.7 308.4 252.5C309.5 252.3 310.7 252.1 311.8 252.3C312.9 252.6 314.0 253.6 315.1 254.3C316.2 255.0 317.4 255.8 318.5 256.7C319.7 257.7 320.7 258.9 321.9 260.0C323.0 261.0 324.1 261.9 325.3 263.0C326.4 264.1 327.5 265.1 328.6 266.4C329.8 267.7 330.9 269.4 332.0 270.7C333.1 272.0 334.3 273.1 335.4 274.1C336.5 275.1 337.6 275.8 338.7 276.6C339.9 277.3 341.0 278.1 342.1 278.7C343.3 279.3 344.3 279.6 345.5 280.0C346.6 280.3 347.8 280.2 348.9 280.7C350.0 281.1 351.1 282.2 352.2 282.9C353.3 283.6 354.5 284.2 355.6 284.9C356.7 285.6 357.8 286.4 358.9 287.1C360.1 287.8 361.2 289.0 362.4 289.2C363.5 289.5 364.6 289.2 365.7 288.8C366.8 288.4 368.0 287.7 369.1 286.8C370.2 285.9 371.3 284.5 372.4 283.4C373.5 282.3 374.7 280.9 375.8 280.0C377.0 279.0 378.0 278.1 379.2 277.5C380.3 276.9 381.5 276.7 382.6 276.4C383.7 276.1 384.8 275.9 385.9 275.8C387.0 275.7 388.2 275.8 389.3 275.8C390.4 275.7 391.5 275.3 392.6 275.6C393.8 275.9 394.9 276.0 396.1 277.5C397.2 279.1 398.3 282.3 399.4 284.9C400.5 287.5 401.7 290.9 402.8 293.2C403.9 295.4 405.0 296.3 406.1 298.4C407.2 300.5 408.3 302.9 409.4 305.8C410.5 308.7 411.7 312.0 412.8 315.9C414.0 319.8 415.4 325.7 416.2 329.1C417.1 332.4 417.6 333.9 418.2 336.0C418.8 338.1 419.0 340.1 419.6 341.9C420.1 343.6 420.8 345.2 421.3 346.7C421.9 348.3 422.2 350.3 423.0 351.1C423.8 352.0 425.2 351.6 426.3 351.8C427.4 352.1 428.9 353.4 429.7 352.6C430.6 351.8 430.8 348.4 431.4 346.7C431.9 345.1 432.2 344.1 433.0 342.8C433.9 341.5 435.6 340.2 436.5 338.9C437.3 337.6 437.7 336.0 438.2 335.1C438.8 334.2 439.0 334.1 439.8 333.5C440.6 332.9 442.1 332.2 443.2 331.5C444.3 330.9 445.4 329.9 446.5 329.6C447.6 329.2 448.8 329.4 449.9 329.4C451.1 329.4 452.1 330.0 453.3 329.6C454.4 329.1 455.6 327.8 456.7 326.9C457.8 326.0 458.9 325.2 460.0 324.2C461.1 323.2 462.3 322.3 463.4 320.8C464.5 319.3 465.6 317.1 466.7 315.2C467.9 313.3 469.0 311.5 470.2 309.5C471.3 307.6 472.2 305.5 473.5 303.7C474.7 301.8 475.8 300.3 477.5 298.4C479.2 296.5 482.1 293.9 483.7 292.2C485.2 290.5 485.8 289.5 487.0 288.1C488.1 286.7 489.3 285.2 490.4 283.7C491.5 282.1 492.6 280.3 493.7 278.8C494.8 277.3 496.0 275.8 497.1 274.9C498.3 274.0 499.3 273.7 500.4 273.4C501.6 273.1 502.7 273.1 503.9 273.1C505.0 273.2 506.1 273.3 507.2 273.7C508.3 274.1 509.5 274.8 510.6 275.6C511.7 276.4 512.8 277.5 513.9 278.3C515.0 279.2 516.2 280.1 517.3 280.8C518.5 281.4 519.5 282.0 520.7 282.2C521.8 282.5 523.0 282.4 524.1 282.2C525.2 282.1 526.3 281.9 527.4 281.4C528.5 281.0 529.7 280.7 530.8 279.8C531.9 278.9 533.0 276.9 534.1 275.9C535.3 274.8 536.4 273.8 537.6 273.4C538.7 273.1 539.8 273.6 540.9 273.6C542.0 273.7 543.2 273.8 544.3 273.9C545.4 274.1 546.5 273.8 547.6 274.4C548.7 275.1 549.9 277.2 551.0 277.8C552.2 278.5 553.2 278.6 554.4 278.3C555.5 278.0 556.6 277.0 557.8 276.2C558.9 275.3 559.4 274.3 561.1 273.2C562.8 272.1 566.2 270.4 567.9 269.7C569.6 268.9 570.1 269.2 571.2 268.9C572.3 268.5 573.5 268.1 574.6 267.7C575.8 267.3 576.8 266.9 577.9 266.4C579.1 266.0 580.2 265.5 581.4 265.2C582.5 264.8 583.6 264.5 584.7 264.2C585.8 263.9 587.0 263.5 588.1 263.2C589.2 262.9 590.3 262.7 591.4 262.5C592.5 262.3 593.7 262.3 594.8 262.0C596.0 261.8 597.0 262.0 598.2 261.3C599.3 260.5 600.5 259.3 601.6 257.6C602.7 256.0 603.8 253.2 604.9 251.1C606.0 249.0 607.2 246.6 608.3 244.9C609.4 243.3 610.5 242.2 611.6 241.3C612.8 240.5 613.9 240.1 615.1 239.8C616.2 239.5 617.3 239.4 618.4 239.6C619.5 239.8 620.7 240.4 621.8 241.0C622.9 241.7 624.0 242.9 625.1 243.5C626.2 244.1 627.4 244.5 628.5 244.7C629.7 244.9 630.7 244.6 631.9 244.7C633.0 244.7 634.2 244.8 635.3 244.9C636.4 245.1 637.5 245.6 638.6 245.7C639.7 245.9 640.9 245.9 642.0 245.9C643.1 246.0 644.2 246.0 645.3 245.9C646.5 245.9 647.6 245.7 648.8 245.6C649.9 245.6 650.4 245.8 652.1 245.4C653.8 245.1 657.1 244.9 658.8 243.7C660.5 242.5 661.1 240.4 662.2 238.3C663.3 236.2 664.4 233.2 665.5 231.2C666.6 229.2 667.8 227.7 668.9 226.2C670.0 224.8 671.2 223.5 672.3 222.7C673.4 221.8 674.5 221.3 675.6 221.3C676.7 221.3 677.9 222.0 679.0 222.7C680.1 223.4 681.3 224.6 682.4 225.5C683.5 226.4 684.7 227.4 685.8 228.1C686.9 228.7 688.0 229.3 689.1 229.5C690.2 229.7 691.4 229.5 692.5 229.5C693.6 229.5 694.8 229.6 695.9 229.5C697.0 229.4 698.1 230.1 699.2 229.1C700.3 228.1 701.5 225.8 702.6 223.4C703.7 221.0 704.9 217.7 706.0 214.9C707.1 212.0 708.2 208.9 709.3 206.3C710.4 203.7 711.6 201.3 712.7 199.2C713.8 197.1 715.0 195.1 716.1 193.5C717.2 192.0 718.3 190.8 719.4 190.0C720.5 189.1 721.7 188.6 722.8 188.5C723.9 188.5 725.1 189.2 726.2 189.7C727.4 190.2 728.5 190.9 729.6 191.7C730.8 192.4 731.8 193.3 732.9 194.2C734.0 195.1 735.2 196.3 736.3 197.1C737.5 197.9 738.6 198.5 739.7 198.9C740.9 199.4 742.0 199.7 743.1 199.8C744.2 199.8 745.3 199.2 746.4 199.1C747.6 199.1 748.7 199.3 749.8 199.5C750.9 199.6 752.0 200.0 753.1 200.2C754.3 200.5 755.4 200.6 756.5 201.0C757.6 201.3 758.7 201.9 759.8 202.2C761.0 202.5 762.1 203.0 763.2 202.8C764.3 202.6 765.4 202.0 766.6 201.0C767.7 199.9 768.9 198.1 770.1 196.4C771.2 194.8 772.3 192.8 773.4 191.1C774.5 189.3 775.7 187.5 776.8 185.7C777.9 184.0 779.0 182.0 780.1 180.4C781.2 178.7 782.4 177.3 783.5 175.8C784.6 174.3 785.7 172.6 786.8 171.2C787.9 169.9 789.1 168.6 790.2 167.4C791.3 166.3 792.4 165.2 793.5 164.4C794.7 163.6 795.8 163.2 796.9 162.6C798.0 161.9 799.1 161.3 800.2 160.6C801.4 159.8 802.6 158.8 803.8 158.0C804.9 157.2 806.0 156.5 807.1 156.0C808.2 155.5 809.3 155.0 810.5 154.9C811.6 154.9 812.7 155.1 813.8 155.5C814.9 156.0 816.0 156.7 817.2 157.5C818.3 158.4 819.4 159.9 820.5 160.7C821.6 161.5 822.8 162.5 823.9 162.5C825.0 162.5 826.1 162.6 827.2 160.8C828.3 159.0 829.5 154.7 830.6 151.6C831.7 148.4 832.6 145.6 833.7 142.1C834.8 138.5 836.1 133.6 837.3 130.1C838.5 126.5 839.6 123.4 840.7 120.9C841.8 118.3 843.0 115.5 844.1 114.9C845.2 114.4 846.4 117.1 847.5 117.7C848.6 118.2 849.7 118.3 850.8 118.2C851.9 118.1 853.1 116.8 854.2 117.1C855.3 117.5 856.5 120.6 857.6 120.2C858.7 119.8 859.8 116.9 860.9 114.9C862.0 113.0 863.2 110.2 864.3 108.3C865.4 106.5 866.6 105.0 867.7 104.0C868.8 102.9 869.9 103.5 871.0 102.3C872.1 101.1 873.3 98.2 874.4 96.7C875.6 95.1 876.7 94.1 877.8 92.9C878.9 91.7 880.1 91.1 881.2 89.5C882.3 87.8 883.4 85.6 884.5 82.7C885.6 79.9 886.7 75.0 887.9 72.1C889.0 69.3 890.2 66.9 891.3 65.4C892.4 64.0 893.5 63.7 894.6 63.4C895.7 63.0 896.9 63.0 898.0 63.4C899.1 63.8 900.3 64.7 901.4 65.8C902.5 66.9 903.6 68.5 904.7 69.7C905.8 70.9 907.0 72.0 908.1 72.8C909.3 73.5 910.4 74.4 911.5 74.3C912.7 74.2 913.7 72.8 914.8 72.1C915.9 71.5 917.1 70.9 918.2 70.7C919.4 70.4 920.5 70.2 921.7 70.7C922.8 71.1 923.8 71.9 925.0 73.4C926.1 74.9 927.2 77.5 928.4 79.6C929.5 81.7 930.5 84.1 931.7 86.1C932.8 88.2 933.9 90.0 935.1 91.8C936.2 93.6 937.4 95.2 938.5 96.9C939.6 98.5 940.7 101.3 941.8 101.7C942.9 102.1 944.7 99.7 945.2 99.3" fill="none" stroke="#ffeb3b" stroke-width="1.25" stroke-linejoin="round" stroke-linecap="round"/>
<path d="M2 91.7H980" stroke="#089981" stroke-width="0.7" stroke-dasharray="0.7 1.3" opacity="0.5"/>
<g>
<rect x="980.95" y="77.3" width="36.95" height="9.7" rx="0.7" fill="#e91e63"/>
<rect x="980.95" y="87.1" width="36.95" height="9.6" rx="0.7" fill="#089981"/>
<rect x="959" y="87.1" width="21.1" height="9.6" rx="0.7" fill="#089981"/>
<rect x="980.95" y="96.8" width="36.95" height="9.3" rx="0.7" fill="#ffeb3b"/>
<rect x="980.95" y="136.4" width="36.95" height="9.4" rx="0.7" fill="#089981"/>
<rect x="980.95" y="161" width="36.95" height="9.4" rx="0.7" fill="#f57c00"/>
<rect x="980.95" y="220.5" width="36.95" height="9.4" rx="0.7" fill="#ffffff"/>
<rect x="6.8" y="20.9" width="20.7" height="10.1" rx="1.9" fill="none" stroke="#434753" stroke-width="0.85"/>
<rect x="6.5" y="422.7" width="15.8" height="11" rx="1.9" fill="none" stroke="#434753" stroke-width="0.85"/>
<path d="M48.2 21.25H42a5 5 0 0 0 0 10H48.2Z" fill="#4a1f2e"/>
<path d="M48.2 21.25H54.2a5 5 0 0 1 0 10H48.2Z" fill="#2e1b63"/>
<rect x="982.6" y="4.5" width="35.7" height="13.6" rx="2.3" fill="#0f0f10" stroke="#3b3c42" stroke-width="0.8"/>
<defs><radialGradient id="pg"><stop offset="0" stop-color="#5a22d6" stop-opacity="0"/><stop offset="0.3" stop-color="#5a22d6" stop-opacity="0"/><stop offset="0.5" stop-color="#5a22d6" stop-opacity="0.38"/><stop offset="1" stop-color="#5a22d6" stop-opacity="0"/></radialGradient>
<g id="rf"><circle r="6.2" fill="url(#pg)"/><circle r="3.05" fill="none" stroke="#6a32e2" stroke-width="1.3"/><path d="M1.6 -4.1L4.4 -1.9L1.2 -1.2Z M-1.6 4.1L-4.4 1.9L-1.2 1.2Z" fill="#6a32e2"/><path d="M3.6 -3.2L4.6 -2.2M-3.6 3.2L-4.6 2.2" stroke="#171a26" stroke-width="0.5"/></g></defs>
<use href="#rf" x="36.3" y="428.5"/>
<use href="#rf" x="53.1" y="26.3"/>
<circle cx="945.1" cy="410.8" r="5.5" fill="#0d0b12" stroke="#9c2fb5" stroke-width="1.2"/>
<path d="M946.6 407.6L942.7 411.6H945L943.8 414.2L947.6 410.1H945.3Z" fill="#b24fd0"/>
<circle cx="949" cy="406.9" r="1.6" fill="#f23645"/>
<circle cx="958.4" cy="410.4" r="5.8" fill="#1a0d12" stroke="#d32f3f" stroke-width="1.2"/>
<circle cx="958.4" cy="410.4" r="4.5" fill="#f5f5f8"/>
<circle cx="958.4" cy="410.4" r="2.1" fill="#f23645"/>
<defs><linearGradient id="bt" x1="0" y1="0" x2="0" y2="1"><stop offset="0" stop-color="#2d2d2d"/><stop offset="0.65" stop-color="#2d2d2d"/><stop offset="1" stop-color="#1a1c23"/></linearGradient>
<linearGradient id="bl" x1="0" y1="0" x2="1" y2="0"><stop offset="0" stop-color="#2d2d2d"/><stop offset="0.65" stop-color="#2d2d2d"/><stop offset="1" stop-color="#1a1c23"/></linearGradient>
<linearGradient id="br" x1="0" y1="0" x2="1" y2="0"><stop offset="0" stop-color="#101116"/><stop offset="0.45" stop-color="#121212"/><stop offset="0.55" stop-color="#2b2b2b"/><stop offset="1" stop-color="#2b2b2b"/></linearGradient></defs>
<rect x="1020.3" y="0" width="0.5" height="492" fill="#20222a"/>
<rect x="1020.7" y="0" width="2.5" height="492" fill="#2d2d2d"/>
<rect x="1023.2" y="0" width="0.8" height="492" fill="#101010"/>
<rect x="0" y="490.7" width="1020.5" height="1.3" fill="#1e1e1e"/>
<rect x="0" y="0" width="2.1" height="492" fill="url(#bl)"/>
<rect x="0" y="0" width="1023.2" height="2" fill="url(#bt)"/>
</g>

</svg>
<div id="ov">
<!-- legend row 1 -->
<svg class="t" style="left:6.2px;top:5.6px" width="11" height="11" viewBox="0 0 11 11"><circle cx="5.5" cy="5.5" r="5.05" fill="#1e5896"/><text x="5.5" y="7" font-size="4.2" font-weight="bold" fill="#e8eef6" text-anchor="middle" font-family="Liberation Sans, sans-serif">225</text></svg>
<div class="t" style="left:19.4px;top:4.7px;height:12px;line-height:12px;font-size:8.6px;color:#dfe2ea;">Japan 225 <span style="font-size:9.2px">インデックス</span><span style="margin-left:1.3px">·</span><span style="margin-left:1.4px">1</span><span style="font-size:9.2px">日</span><span style="margin-left:1.6px">·</span><span style="margin-left:2.2px;font-size:8.3px;letter-spacing:-0.5px">TVC</span></div>
<svg class="t" style="left:163.5px;top:6.2px" width="10" height="10" viewBox="0 0 10 10"><circle cx="5" cy="5" r="4.6" fill="#2a2e39"/><rect x="2.6" y="4.2" width="4.8" height="1.6" rx="0.5" fill="#b2b5be"/></svg>
<div class="t" style="left:178.4px;top:6.6px;font-size:7.3px;font-weight:500;color:#e0e3eb;height:10px;line-height:10.4px;"><span>始値</span><span style="color:#0aa58b;font-size:7.2px;font-weight:400;-webkit-text-stroke:0.15px #0aa58b;">49,012.25</span></div>
<div class="t" style="left:228.6px;top:6.6px;font-size:7.3px;font-weight:500;color:#e0e3eb;height:10px;line-height:10.4px;"><span>高値</span><span style="color:#0aa58b;font-size:7.2px;font-weight:400;-webkit-text-stroke:0.15px #0aa58b;">49,749.59</span></div>
<div class="t" style="left:279.9px;top:6.6px;font-size:7.3px;font-weight:500;color:#e0e3eb;height:10px;line-height:10.4px;"><span>安値</span><span style="color:#0aa58b;font-size:7.2px;font-weight:400;-webkit-text-stroke:0.15px #0aa58b;">48,964.19</span></div>
<div class="t" style="left:330.9px;top:6.6px;font-size:7.3px;font-weight:500;color:#e0e3eb;height:10px;line-height:10.4px;"><span>終値</span><span style="color:#0aa58b;font-size:7.2px;font-weight:400;-webkit-text-stroke:0.15px #0aa58b;">49,559.02</span></div>
<div class="t" style="left:381.7px;top:6.6px;font-size:6.85px;color:#0aa58b;height:10px;line-height:10px;-webkit-text-stroke:0.15px #0aa58b;">+899.55 (+1.85%)</div>
<!-- legend row 2 -->
<svg class="t" style="left:9px;top:23.9px" width="6" height="5" viewBox="0 0 6 5"><path d="M0.8 1.2L3 3.3L5.2 1.2" fill="none" stroke="#d1d4dc" stroke-width="1.2"/></svg>
<div class="t" style="left:17.8px;top:23px;font-size:7.2px;color:#e0e3eb;-webkit-text-stroke:0.1px #e0e3eb;">15</div>
<div class="t" style="left:42.1px;top:23px;font-size:7.2px;font-weight:bold;color:#d92e43;">!</div>
<!-- JPY box -->
<div class="t" style="left:984.7px;top:7.6px;font-size:7.4px;color:#d1d4dc;transform:scaleX(0.8);transform-origin:0 0;">JPY</div>
<svg class="t" style="left:1011.2px;top:10px" width="6" height="4" viewBox="0 0 6 4"><path d="M1.4 1L3 2.6L4.6 1" fill="none" stroke="#d1d4dc" stroke-width="0.9"/></svg>
<!-- price axis -->
<div class="ax" style="top:50.2px">52,000.00</div>
<div class="ax" style="top:112.5px">48,000.00</div>
<div class="ax" style="top:174.9px">44,000.00</div>
<div class="ax" style="top:206.1px">42,000.00</div>
<div class="ax" style="top:237.2px">40,000.00</div>
<div class="ax" style="top:268.4px">38,000.00</div>
<div class="ax" style="top:299.5px">36,000.00</div>
<div class="ax" style="top:330.7px">34,000.00</div>
<div class="ax" style="top:361.9px">32,000.00</div>
<div class="ax" style="top:393.0px">30,000.00</div>
<div class="ax" style="top:20.8px;height:6px;overflow:hidden;"><span style="position:relative;top:-1.5px;display:block">54,000.00</span></div>
<div class="ax" style="top:145.9px;height:6px;overflow:hidden;"><span style="position:relative;top:-2.2px;display:block">46,000.00</span></div>
<!-- price labels -->
<div class="lb" style="top:77.0px;">50,156.76</div>
<div class="lb" style="top:86.5px;">49,559.02</div>
<div class="lb" style="top:96.0px;color:#171b26;">49,041.17</div>
<div class="lb" style="top:135.7px;">46,369.39</div>
<div class="lb" style="top:160.3px;">44,831.47</div>
<div class="lb" style="top:219.8px;color:#171b26;">41,026.18</div>
<div class="lb" style="left:959px;width:21.1px;top:86.4px;text-align:center;font-size:6.4px;">NI225</div>
<!-- time axis -->
<div class="tm" style="left:72.6px">11月</div>
<div class="tm" style="left:140px">12月</div>
<div class="tm" style="left:210.7px;font-weight:bold">2025</div>
<div class="tm" style="left:274.7px">2月</div>
<div class="tm" style="left:335.4px">3月</div>
<div class="tm" style="left:402.8px">4月</div>
<div class="tm" style="left:473.5px">5月</div>
<div class="tm" style="left:540.9px">6月</div>
<div class="tm" style="left:611.6px">7月</div>
<div class="tm" style="left:685.8px">8月</div>
<div class="tm" style="left:753.1px">9月</div>
<div class="tm" style="left:820.5px">10月</div>
<div class="tm" style="left:894.6px">11月</div>
<div class="tm" style="left:955.3px">12月</div>
<!-- TV logo -->
<svg class="t" style="left:7.2px;top:400.7px;overflow:visible" width="19" height="10.8" viewBox="-2 -2 40 22" preserveAspectRatio="none"><path d="M0 0H14V18H7V7H0Z M17.3 3.6a3.1 3.1 0 1 0 6.2 0a3.1 3.1 0 1 0 -6.2 0Z M21 18L27.3 0H36L30.6 18Z" fill="#ffffff" stroke="#0b0d13" stroke-width="2.4" paint-order="stroke" stroke-linejoin="round"/></svg>
<!-- sub pane button -->
<svg class="t" style="left:11.1px;top:426px" width="6" height="5" viewBox="0 0 6 5"><path d="M1 1.3L3 3.3L5 1.3" fill="none" stroke="#d1d4dc" stroke-width="0.9"/></svg>
<!-- gear -->
<svg class="t" style="left:995.5px;top:477.9px" width="10" height="10" viewBox="0 0 10 10"><path d="M2.9 1.5H7.1L9.1 5L7.1 8.5H2.9L0.9 5Z" fill="none" stroke="#9a9da7" stroke-width="0.85" stroke-linejoin="round"/><circle cx="5" cy="5" r="1.15" fill="none" stroke="#9a9da7" stroke-width="0.7"/></svg>

</div>
</body></html>
